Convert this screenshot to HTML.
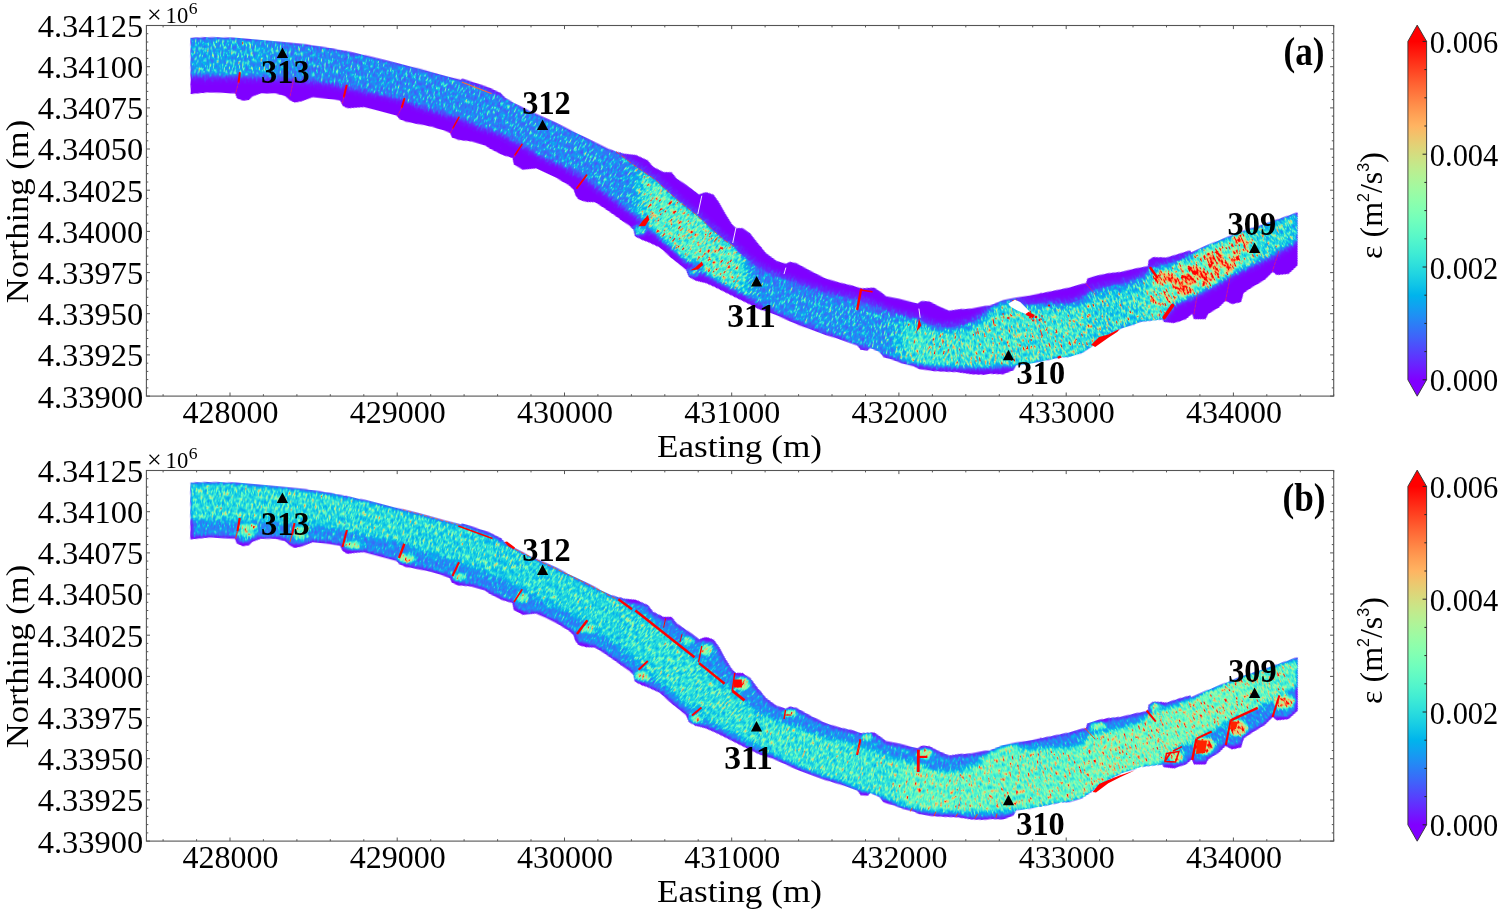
<!DOCTYPE html><html><head><meta charset="utf-8"><title>Dissipation rate maps</title><style>html,body{margin:0;padding:0;background:#fff}svg{display:block}text{font-family:"Liberation Serif","DejaVu Serif",serif;fill:#000}</style></head><body>
<svg width="1499" height="913" viewBox="0 0 1499 913">
<rect width="1499" height="913" fill="#fff"/>
<defs>
<linearGradient id="cba" gradientUnits="userSpaceOnUse" x1="0" y1="379.8" x2="0" y2="41.4"><stop offset="0.0000" stop-color="#8000ff"/><stop offset="0.0312" stop-color="#7019ff"/><stop offset="0.0625" stop-color="#6032fe"/><stop offset="0.0938" stop-color="#504afc"/><stop offset="0.1250" stop-color="#4062fa"/><stop offset="0.1562" stop-color="#3078f7"/><stop offset="0.1875" stop-color="#208ef4"/><stop offset="0.2188" stop-color="#10a2f0"/><stop offset="0.2500" stop-color="#00b4ec"/><stop offset="0.2812" stop-color="#10c5e7"/><stop offset="0.3125" stop-color="#20d4e1"/><stop offset="0.3438" stop-color="#30e1db"/><stop offset="0.3750" stop-color="#40ecd4"/><stop offset="0.4062" stop-color="#50f4cd"/><stop offset="0.4375" stop-color="#60fac5"/><stop offset="0.4688" stop-color="#70febd"/><stop offset="0.5000" stop-color="#80ffb4"/><stop offset="0.5312" stop-color="#8ffeab"/><stop offset="0.5625" stop-color="#9ffaa2"/><stop offset="0.5938" stop-color="#aff498"/><stop offset="0.6250" stop-color="#bfec8e"/><stop offset="0.6562" stop-color="#cfe183"/><stop offset="0.6875" stop-color="#dfd478"/><stop offset="0.7188" stop-color="#efc56d"/><stop offset="0.7500" stop-color="#ffb462"/><stop offset="0.7812" stop-color="#ffa256"/><stop offset="0.8125" stop-color="#ff8e4a"/><stop offset="0.8438" stop-color="#ff783e"/><stop offset="0.8750" stop-color="#ff6232"/><stop offset="0.9062" stop-color="#ff4a25"/><stop offset="0.9375" stop-color="#ff3219"/><stop offset="0.9688" stop-color="#ff190d"/><stop offset="1.0000" stop-color="#ff0000"/></linearGradient>
<linearGradient id="cbb" gradientUnits="userSpaceOnUse" x1="0" y1="824.8" x2="0" y2="486.4"><stop offset="0.0000" stop-color="#8000ff"/><stop offset="0.0312" stop-color="#7019ff"/><stop offset="0.0625" stop-color="#6032fe"/><stop offset="0.0938" stop-color="#504afc"/><stop offset="0.1250" stop-color="#4062fa"/><stop offset="0.1562" stop-color="#3078f7"/><stop offset="0.1875" stop-color="#208ef4"/><stop offset="0.2188" stop-color="#10a2f0"/><stop offset="0.2500" stop-color="#00b4ec"/><stop offset="0.2812" stop-color="#10c5e7"/><stop offset="0.3125" stop-color="#20d4e1"/><stop offset="0.3438" stop-color="#30e1db"/><stop offset="0.3750" stop-color="#40ecd4"/><stop offset="0.4062" stop-color="#50f4cd"/><stop offset="0.4375" stop-color="#60fac5"/><stop offset="0.4688" stop-color="#70febd"/><stop offset="0.5000" stop-color="#80ffb4"/><stop offset="0.5312" stop-color="#8ffeab"/><stop offset="0.5625" stop-color="#9ffaa2"/><stop offset="0.5938" stop-color="#aff498"/><stop offset="0.6250" stop-color="#bfec8e"/><stop offset="0.6562" stop-color="#cfe183"/><stop offset="0.6875" stop-color="#dfd478"/><stop offset="0.7188" stop-color="#efc56d"/><stop offset="0.7500" stop-color="#ffb462"/><stop offset="0.7812" stop-color="#ffa256"/><stop offset="0.8125" stop-color="#ff8e4a"/><stop offset="0.8438" stop-color="#ff783e"/><stop offset="0.8750" stop-color="#ff6232"/><stop offset="0.9062" stop-color="#ff4a25"/><stop offset="0.9375" stop-color="#ff3219"/><stop offset="0.9688" stop-color="#ff190d"/><stop offset="1.0000" stop-color="#ff0000"/></linearGradient>
<filter id="cm" x="-1200" y="-1200" width="3600" height="3600" filterUnits="userSpaceOnUse" color-interpolation-filters="sRGB">
<feTurbulence type="fractalNoise" baseFrequency="0.55 0.2" numOctaves="2" seed="7" result="n"/>
<feColorMatrix in="n" type="matrix" values="1 0 0 0 0 1 0 0 0 0 1 0 0 0 0 0 0 0 0 1" result="ng"/>
<feComponentTransfer in="ng" result="nt"><feFuncR type="table" tableValues="0.125 0.125 0.125 0.125 0.125 0.125 0.125 0.125 0.129 0.137 0.144 0.151 0.159 0.166 0.173 0.181 0.188 0.195 0.203 0.210 0.217 0.236 0.258 0.284 0.315 0.349 0.388 0.430 0.476 0.527 0.581 0.640 0.702 0.769 0.839 0.914 0.993 1.000 1.000 1.000 1.000"/><feFuncG type="table" tableValues="0.125 0.125 0.125 0.125 0.125 0.125 0.125 0.125 0.129 0.137 0.144 0.151 0.159 0.166 0.173 0.181 0.188 0.195 0.203 0.210 0.217 0.236 0.258 0.284 0.315 0.349 0.388 0.430 0.476 0.527 0.581 0.640 0.702 0.769 0.839 0.914 0.993 1.000 1.000 1.000 1.000"/><feFuncB type="table" tableValues="0.125 0.125 0.125 0.125 0.125 0.125 0.125 0.125 0.129 0.137 0.144 0.151 0.159 0.166 0.173 0.181 0.188 0.195 0.203 0.210 0.217 0.236 0.258 0.284 0.315 0.349 0.388 0.430 0.476 0.527 0.581 0.640 0.702 0.769 0.839 0.914 0.993 1.000 1.000 1.000 1.000"/></feComponentTransfer>
<feComposite in="SourceGraphic" in2="nt" operator="arithmetic" k1="4" k2="0" k3="0" k4="0" result="v"/>
<feComponentTransfer in="v" result="c"><feFuncR type="table" tableValues="0.500 0.438 0.375 0.312 0.250 0.188 0.125 0.062 0.000 0.062 0.125 0.188 0.250 0.312 0.375 0.438 0.500 0.562 0.625 0.688 0.750 0.812 0.875 0.938 1.000 1.000 1.000 1.000 1.000 1.000 1.000 1.000 1.000"/><feFuncG type="table" tableValues="0.000 0.098 0.195 0.290 0.383 0.471 0.556 0.634 0.707 0.773 0.831 0.882 0.924 0.957 0.981 0.995 1.000 0.995 0.981 0.957 0.924 0.882 0.831 0.773 0.707 0.634 0.556 0.471 0.383 0.290 0.195 0.098 0.000"/><feFuncB type="table" tableValues="1.000 0.999 0.995 0.989 0.981 0.970 0.957 0.942 0.924 0.904 0.882 0.858 0.831 0.803 0.773 0.741 0.707 0.672 0.634 0.596 0.556 0.514 0.471 0.428 0.383 0.337 0.290 0.243 0.195 0.147 0.098 0.049 0.000"/></feComponentTransfer>
<feComposite in="c" in2="SourceGraphic" operator="in"/>
</filter>
<filter id="cmb" x="-1200" y="-1200" width="3600" height="3600" filterUnits="userSpaceOnUse" color-interpolation-filters="sRGB">
<feTurbulence type="fractalNoise" baseFrequency="0.55 0.2" numOctaves="2" seed="7" result="n"/>
<feColorMatrix in="n" type="matrix" values="1 0 0 0 0 1 0 0 0 0 1 0 0 0 0 0 0 0 0 1" result="ng"/>
<feComponentTransfer in="ng" result="nt"><feFuncR type="table" tableValues="0.138 0.138 0.138 0.138 0.138 0.140 0.146 0.153 0.159 0.166 0.172 0.179 0.185 0.192 0.198 0.205 0.211 0.218 0.224 0.231 0.237 0.253 0.271 0.291 0.313 0.337 0.364 0.392 0.423 0.456 0.491 0.528 0.567 0.608 0.651 0.697 0.744 0.794 0.846 0.900 0.956"/><feFuncG type="table" tableValues="0.138 0.138 0.138 0.138 0.138 0.140 0.146 0.153 0.159 0.166 0.172 0.179 0.185 0.192 0.198 0.205 0.211 0.218 0.224 0.231 0.237 0.253 0.271 0.291 0.313 0.337 0.364 0.392 0.423 0.456 0.491 0.528 0.567 0.608 0.651 0.697 0.744 0.794 0.846 0.900 0.956"/><feFuncB type="table" tableValues="0.138 0.138 0.138 0.138 0.138 0.140 0.146 0.153 0.159 0.166 0.172 0.179 0.185 0.192 0.198 0.205 0.211 0.218 0.224 0.231 0.237 0.253 0.271 0.291 0.313 0.337 0.364 0.392 0.423 0.456 0.491 0.528 0.567 0.608 0.651 0.697 0.744 0.794 0.846 0.900 0.956"/></feComponentTransfer>
<feComposite in="SourceGraphic" in2="nt" operator="arithmetic" k1="4" k2="0" k3="0" k4="0" result="v"/>
<feComponentTransfer in="v" result="c"><feFuncR type="table" tableValues="0.500 0.438 0.375 0.312 0.250 0.188 0.125 0.062 0.000 0.062 0.125 0.188 0.250 0.312 0.375 0.438 0.500 0.562 0.625 0.688 0.750 0.812 0.875 0.938 1.000 1.000 1.000 1.000 1.000 1.000 1.000 1.000 1.000"/><feFuncG type="table" tableValues="0.000 0.098 0.195 0.290 0.383 0.471 0.556 0.634 0.707 0.773 0.831 0.882 0.924 0.957 0.981 0.995 1.000 0.995 0.981 0.957 0.924 0.882 0.831 0.773 0.707 0.634 0.556 0.471 0.383 0.290 0.195 0.098 0.000"/><feFuncB type="table" tableValues="1.000 0.999 0.995 0.989 0.981 0.970 0.957 0.942 0.924 0.904 0.882 0.858 0.831 0.803 0.773 0.741 0.707 0.672 0.634 0.596 0.556 0.514 0.471 0.428 0.383 0.337 0.290 0.243 0.195 0.147 0.098 0.049 0.000"/></feComponentTransfer>
<feComposite in="c" in2="SourceGraphic" operator="in"/>
</filter>
<filter id="b1" x="-20%" y="-20%" width="140%" height="140%" color-interpolation-filters="sRGB"><feGaussianBlur stdDeviation="1"/></filter>
<filter id="b1_5" x="-20%" y="-20%" width="140%" height="140%" color-interpolation-filters="sRGB"><feGaussianBlur stdDeviation="1.5"/></filter>
<filter id="b2" x="-20%" y="-20%" width="140%" height="140%" color-interpolation-filters="sRGB"><feGaussianBlur stdDeviation="2"/></filter>
<filter id="b3" x="-20%" y="-20%" width="140%" height="140%" color-interpolation-filters="sRGB"><feGaussianBlur stdDeviation="3"/></filter>
<filter id="b5" x="-20%" y="-20%" width="140%" height="140%" color-interpolation-filters="sRGB"><feGaussianBlur stdDeviation="5"/></filter>
<filter id="b8" x="-20%" y="-20%" width="140%" height="140%" color-interpolation-filters="sRGB"><feGaussianBlur stdDeviation="8"/></filter>
<clipPath id="oa"><polygon points="190.4,37.7 209.0,37.0 237.0,37.7 257.0,39.5 281.5,42.0 305.5,44.3 329.6,47.9 345.0,50.9 366.3,55.4 392.6,62.0 418.9,68.5 445.2,75.8 461.0,79.7 462.3,78.5 480.7,84.5 490.0,87.7 500.5,93.0 505.8,98.3 516.3,104.2 529.4,110.8 542.6,116.7 555.7,122.6 568.9,129.2 582.0,135.7 595.2,142.3 608.3,148.9 616.2,151.7 624.2,153.7 636.0,155.0 647.8,160.2 653.1,166.8 663.6,172.1 671.5,172.1 676.8,178.6 684.7,183.9 692.6,189.5 699.1,194.4 704.4,192.5 707.0,192.4 713.6,194.6 718.9,201.8 725.5,213.7 732.0,224.2 736.0,228.1 742.6,228.1 750.4,233.4 758.3,243.9 766.2,253.1 776.7,261.0 785.9,263.6 789.9,261.7 796.3,263.0 812.0,271.6 825.2,278.1 838.3,282.1 853.1,285.6 861.0,288.3 874.2,287.6 882.1,292.9 886.0,296.2 899.2,298.8 917.6,303.4 921.5,300.8 929.4,301.4 938.6,306.0 949.1,310.6 958.3,309.3 971.5,308.6 984.6,306.0 990.0,305.4 1003.1,300.1 1016.3,297.5 1029.4,295.5 1042.6,292.9 1055.7,290.2 1068.9,287.6 1082.0,283.7 1086.0,283.0 1087.3,278.4 1095.2,275.8 1108.3,273.1 1121.5,271.8 1134.6,268.5 1147.9,266.1 1148.5,260.2 1153.1,256.9 1166.3,257.6 1179.4,253.6 1190.0,250.4 1191.3,252.3 1205.7,245.8 1218.9,240.5 1232.0,235.2 1245.2,230.0 1258.3,226.0 1271.5,221.4 1284.6,216.8 1297.8,212.2 1297.8,265.5 1288.6,274.0 1276.7,275.3 1272.8,272.1 1264.9,279.9 1251.8,287.8 1243.9,293.1 1241.2,302.3 1232.0,304.3 1225.5,301.0 1218.9,307.6 1208.4,314.1 1205.7,319.4 1193.9,319.4 1191.9,314.1 1186.0,319.4 1174.2,323.3 1163.7,322.0 1162.4,319.4 1140.0,322.0 1134.6,324.4 1121.5,328.4 1108.3,334.9 1095.2,344.1 1089.9,348.1 1082.0,353.3 1068.9,357.3 1061.0,357.3 1049.2,359.9 1029.4,363.9 1016.3,365.2 1013.7,370.4 1003.1,374.4 990.0,374.0 984.6,375.0 971.5,374.4 958.3,372.4 945.2,371.8 932.0,371.1 918.9,369.1 913.6,366.5 903.1,363.9 892.6,359.9 883.4,357.3 879.4,352.0 870.2,348.1 867.6,350.7 861.0,350.0 857.1,345.5 840.0,339.5 825.2,335.0 798.9,325.5 772.6,313.6 758.3,309.0 751.8,305.7 738.6,299.1 725.5,292.6 714.9,287.3 705.7,283.3 695.2,280.7 688.6,276.8 686.0,270.2 672.9,259.7 659.7,247.8 647.9,242.2 642.6,240.4 634.7,236.5 633.4,229.9 629.4,226.0 616.3,216.8 603.1,207.6 594.9,202.5 586.1,202.0 578.5,199.8 575.2,195.5 573.5,190.0 568.9,185.7 555.7,177.8 545.2,172.6 536.0,168.6 522.9,169.9 513.7,164.7 512.4,158.1 503.1,155.5 490.0,149.0 484.6,145.4 471.5,141.5 458.3,140.2 451.8,137.6 449.8,133.0 442.6,130.3 432.0,127.0 418.9,124.4 405.7,121.8 399.2,119.1 396.5,115.9 379.4,111.3 363.7,107.3 353.1,108.0 347.9,108.6 342.6,106.0 340.0,100.7 329.6,99.1 312.7,97.3 301.9,101.5 294.6,102.7 289.8,100.3 285.0,96.1 275.4,93.7 260.9,93.7 252.5,96.7 248.9,100.3 242.8,100.9 236.8,98.5 235.0,93.7 209.0,92.5 190.4,94.3"/></clipPath>
<clipPath id="ob"><polygon points="190.4,482.7 209.0,482.0 237.0,482.7 257.0,484.5 281.5,487.0 305.5,489.3 329.6,492.9 345.0,495.9 366.3,500.4 392.6,507.0 418.9,513.5 445.2,520.8 461.0,524.7 462.3,523.5 480.7,529.5 490.0,532.7 500.5,538.0 505.8,543.3 516.3,549.2 529.4,555.8 542.6,561.7 555.7,567.6 568.9,574.2 582.0,580.7 595.2,587.3 608.3,593.9 616.2,596.7 624.2,598.7 636.0,600.0 647.8,605.2 653.1,611.8 663.6,617.1 671.5,617.1 676.8,623.6 684.7,628.9 692.6,634.5 699.1,639.4 704.4,637.5 707.0,637.4 713.6,639.6 718.9,646.8 725.5,658.7 732.0,669.2 736.0,673.1 742.6,673.1 750.4,678.4 758.3,688.9 766.2,698.1 776.7,706.0 785.9,708.6 789.9,706.7 796.3,708.0 812.0,716.6 825.2,723.1 838.3,727.1 853.1,730.6 861.0,733.3 874.2,732.6 882.1,737.9 886.0,741.2 899.2,743.8 917.6,748.4 921.5,745.8 929.4,746.4 938.6,751.0 949.1,755.6 958.3,754.3 971.5,753.6 984.6,751.0 990.0,750.4 1003.1,745.1 1016.3,742.5 1029.4,740.5 1042.6,737.9 1055.7,735.2 1068.9,732.6 1082.0,728.7 1086.0,728.0 1087.3,723.4 1095.2,720.8 1108.3,718.1 1121.5,716.8 1134.6,713.5 1147.9,711.1 1148.5,705.2 1153.1,701.9 1166.3,702.6 1179.4,698.6 1190.0,695.4 1191.3,697.3 1205.7,690.8 1218.9,685.5 1232.0,680.2 1245.2,675.0 1258.3,671.0 1271.5,666.4 1284.6,661.8 1297.8,657.2 1297.8,710.5 1288.6,719.0 1276.7,720.3 1272.8,717.1 1264.9,724.9 1251.8,732.8 1243.9,738.1 1241.2,747.3 1232.0,749.3 1225.5,746.0 1218.9,752.6 1208.4,759.1 1205.7,764.4 1193.9,764.4 1191.9,759.1 1186.0,764.4 1174.2,768.3 1163.7,767.0 1162.4,764.4 1140.0,767.0 1134.6,769.4 1121.5,773.4 1108.3,779.9 1095.2,789.1 1089.9,793.1 1082.0,798.3 1068.9,802.3 1061.0,802.3 1049.2,804.9 1029.4,808.9 1016.3,810.2 1013.7,815.4 1003.1,819.4 990.0,819.0 984.6,820.0 971.5,819.4 958.3,817.4 945.2,816.8 932.0,816.1 918.9,814.1 913.6,811.5 903.1,808.9 892.6,804.9 883.4,802.3 879.4,797.0 870.2,793.1 867.6,795.7 861.0,795.0 857.1,790.5 840.0,784.5 825.2,780.0 798.9,770.5 772.6,758.6 758.3,754.0 751.8,750.7 738.6,744.1 725.5,737.6 714.9,732.3 705.7,728.3 695.2,725.7 688.6,721.8 686.0,715.2 672.9,704.7 659.7,692.8 647.9,687.2 642.6,685.4 634.7,681.5 633.4,674.9 629.4,671.0 616.3,661.8 603.1,652.6 594.9,647.5 586.1,647.0 578.5,644.8 575.2,640.5 573.5,635.0 568.9,630.7 555.7,622.8 545.2,617.6 536.0,613.6 522.9,614.9 513.7,609.7 512.4,603.1 503.1,600.5 490.0,594.0 484.6,590.4 471.5,586.5 458.3,585.2 451.8,582.6 449.8,578.0 442.6,575.3 432.0,572.0 418.9,569.4 405.7,566.8 399.2,564.1 396.5,560.9 379.4,556.3 363.7,552.3 353.1,553.0 347.9,553.6 342.6,551.0 340.0,545.7 329.6,544.1 312.7,542.3 301.9,546.5 294.6,547.7 289.8,545.3 285.0,541.1 275.4,538.7 260.9,538.7 252.5,541.7 248.9,545.3 242.8,545.9 236.8,543.5 235.0,538.7 209.0,537.5 190.4,539.3"/></clipPath>
<mask id="mcha" maskUnits="userSpaceOnUse" x="0" y="0" width="1499" height="913"><polygon points="190.4,37.7 209.0,37.0 237.0,37.7 257.0,39.5 281.5,42.0 305.5,44.3 329.6,47.9 345.0,50.9 366.3,55.4 392.6,62.0 418.9,68.5 445.2,75.8 461.0,79.7 491.0,92.6 505.8,98.3 516.3,104.2 529.4,110.8 542.6,116.7 555.7,122.6 568.9,129.2 582.0,135.7 595.2,142.3 608.3,148.9 616.2,151.7 633.4,164.8 655.7,180.0 666.3,190.0 679.4,201.8 697.8,216.0 713.6,230.8 724.1,240.0 732.0,244.5 739.9,253.1 747.8,259.7 758.3,267.6 771.5,274.1 784.6,278.8 798.9,284.0 812.0,288.6 825.2,292.6 840.0,296.0 857.1,299.4 874.2,306.0 892.6,312.6 905.7,316.5 918.9,319.2 925.5,323.1 938.6,327.0 951.8,327.0 964.9,324.4 978.0,319.2 984.6,312.6 991.2,306.0 1003.1,300.1 1016.3,297.5 1020.2,304.7 1042.6,303.4 1055.7,303.4 1068.9,303.4 1082.0,299.4 1089.9,291.0 1108.3,286.3 1121.5,283.7 1134.6,279.7 1140.0,278.6 1150.5,268.1 1166.3,264.2 1179.4,260.2 1191.3,254.0 1205.7,245.8 1218.9,240.5 1232.0,235.2 1245.2,230.0 1258.3,226.0 1271.5,221.4 1284.6,216.8 1297.8,212.2 1297.8,240.5 1284.6,247.1 1271.5,255.0 1258.3,261.5 1232.0,273.4 1212.3,285.2 1192.6,295.7 1172.9,303.6 1162.4,318.1 1162.4,319.4 1140.0,322.0 1134.6,324.4 1121.5,328.4 1108.3,334.9 1095.2,344.1 1089.9,348.1 1082.0,353.3 1068.9,357.3 1061.0,357.3 1049.2,359.9 1029.4,363.9 1016.3,365.2 1000.0,365.8 984.6,366.5 958.3,366.5 932.0,365.2 905.7,361.2 879.4,350.7 851.5,341.2 840.0,335.0 825.2,331.0 798.9,320.2 772.6,308.4 758.3,301.8 745.2,293.9 732.0,287.3 718.9,280.7 703.1,271.5 700.5,264.0 686.0,259.7 672.5,247.0 661.0,237.0 649.0,227.0 640.0,217.0 629.4,210.2 616.3,199.7 603.1,190.5 586.6,178.0 568.9,167.3 542.6,155.5 521.6,143.6 500.0,132.3 484.6,127.0 458.3,116.5 445.2,112.6 418.9,104.7 403.0,98.0 379.4,92.8 353.0,87.6 345.0,85.0 329.6,82.0 305.5,78.5 257.0,75.6 190.4,74.4" fill="#fff" filter="url(#b2)"/></mask>
<clipPath id="ccha"><polygon points="190.4,37.7 209.0,37.0 237.0,37.7 257.0,39.5 281.5,42.0 305.5,44.3 329.6,47.9 345.0,50.9 366.3,55.4 392.6,62.0 418.9,68.5 445.2,75.8 461.0,79.7 491.0,92.6 505.8,98.3 516.3,104.2 529.4,110.8 542.6,116.7 555.7,122.6 568.9,129.2 582.0,135.7 595.2,142.3 608.3,148.9 616.2,151.7 633.4,164.8 655.7,180.0 666.3,190.0 679.4,201.8 697.8,216.0 713.6,230.8 724.1,240.0 732.0,244.5 739.9,253.1 747.8,259.7 758.3,267.6 771.5,274.1 784.6,278.8 798.9,284.0 812.0,288.6 825.2,292.6 840.0,296.0 857.1,299.4 874.2,306.0 892.6,312.6 905.7,316.5 918.9,319.2 925.5,323.1 938.6,327.0 951.8,327.0 964.9,324.4 978.0,319.2 984.6,312.6 991.2,306.0 1003.1,300.1 1016.3,297.5 1020.2,304.7 1042.6,303.4 1055.7,303.4 1068.9,303.4 1082.0,299.4 1089.9,291.0 1108.3,286.3 1121.5,283.7 1134.6,279.7 1140.0,278.6 1150.5,268.1 1166.3,264.2 1179.4,260.2 1191.3,254.0 1205.7,245.8 1218.9,240.5 1232.0,235.2 1245.2,230.0 1258.3,226.0 1271.5,221.4 1284.6,216.8 1297.8,212.2 1297.8,307.2 1284.6,311.8 1271.5,316.4 1258.3,321.0 1245.2,325.0 1232.0,330.2 1218.9,335.5 1205.7,340.8 1191.3,349.0 1179.4,355.2 1166.3,359.2 1150.5,363.1 1140.0,373.6 1134.6,374.7 1121.5,378.7 1108.3,381.3 1089.9,386.0 1082.0,394.4 1068.9,398.4 1055.7,398.4 1042.6,398.4 1020.2,399.7 1016.3,392.5 1003.1,395.1 991.2,401.0 984.6,407.6 978.0,414.2 964.9,419.4 951.8,422.0 938.6,422.0 925.5,418.1 918.9,414.2 905.7,411.5 892.6,407.6 874.2,401.0 857.1,394.4 840.0,391.0 825.2,387.6 812.0,383.6 798.9,379.0 784.6,373.8 771.5,369.1 758.3,362.6 747.8,354.7 739.9,348.1 732.0,339.5 724.1,335.0 713.6,325.8 697.8,311.0 679.4,296.8 666.3,285.0 655.7,275.0 633.4,259.8 616.2,246.7 608.3,243.9 595.2,237.3 582.0,230.7 568.9,224.2 555.7,217.6 542.6,211.7 529.4,205.8 516.3,199.2 505.8,193.3 491.0,187.6 461.0,174.7 445.2,170.8 418.9,163.5 392.6,157.0 366.3,150.4 345.0,145.9 329.6,142.9 305.5,139.3 281.5,137.0 257.0,134.5 237.0,132.7 209.0,132.0 190.4,132.7"/></clipPath>
<mask id="mchb" maskUnits="userSpaceOnUse" x="0" y="0" width="1499" height="913"><polygon points="190.4,482.7 209.0,482.0 237.0,482.7 257.0,484.5 281.5,487.0 305.5,489.3 329.6,492.9 345.0,495.9 366.3,500.4 392.6,507.0 418.9,513.5 445.2,520.8 461.0,524.7 491.0,537.6 505.8,543.3 516.3,549.2 529.4,555.8 542.6,561.7 555.7,567.6 568.9,574.2 582.0,580.7 595.2,587.3 608.3,593.9 616.2,596.7 633.4,609.8 655.7,625.0 666.3,635.0 679.4,646.8 697.8,661.0 713.6,675.8 724.1,685.0 732.0,689.5 739.9,698.1 747.8,704.7 758.3,712.6 771.5,719.1 784.6,723.8 798.9,729.0 812.0,733.6 825.2,737.6 840.0,741.0 857.1,744.4 874.2,751.0 892.6,757.6 905.7,761.5 918.9,764.2 925.5,768.1 938.6,772.0 951.8,772.0 964.9,769.4 978.0,764.2 984.6,757.6 991.2,751.0 1003.1,745.1 1016.3,742.5 1020.2,749.7 1042.6,748.4 1055.7,748.4 1068.9,748.4 1082.0,744.4 1089.9,736.0 1108.3,731.3 1121.5,728.7 1134.6,724.7 1140.0,723.6 1150.5,713.1 1166.3,709.2 1179.4,705.2 1191.3,699.0 1205.7,690.8 1218.9,685.5 1232.0,680.2 1245.2,675.0 1258.3,671.0 1271.5,666.4 1284.6,661.8 1297.8,657.2 1297.8,685.5 1284.6,692.1 1271.5,700.0 1258.3,706.5 1232.0,718.4 1212.3,730.2 1192.6,740.7 1172.9,748.6 1162.4,763.1 1162.4,764.4 1140.0,767.0 1134.6,769.4 1121.5,773.4 1108.3,779.9 1095.2,789.1 1089.9,793.1 1082.0,798.3 1068.9,802.3 1061.0,802.3 1049.2,804.9 1029.4,808.9 1016.3,810.2 1000.0,810.8 984.6,811.5 958.3,811.5 932.0,810.2 905.7,806.2 879.4,795.7 851.5,786.2 840.0,780.0 825.2,776.0 798.9,765.2 772.6,753.4 758.3,746.8 745.2,738.9 732.0,732.3 718.9,725.7 703.1,716.5 700.5,709.0 686.0,704.7 672.5,692.0 661.0,682.0 649.0,672.0 640.0,662.0 629.4,655.2 616.3,644.7 603.1,635.5 586.6,623.0 568.9,612.3 542.6,600.5 521.6,588.6 500.0,577.3 484.6,572.0 458.3,561.5 445.2,557.6 418.9,549.7 403.0,543.0 379.4,537.8 353.0,532.6 345.0,530.0 329.6,527.0 305.5,523.5 257.0,520.6 190.4,519.4" fill="#fff" filter="url(#b2)"/></mask>
</defs>
<defs><g id="rva"><g clip-path="url(#oa)">
<polygon points="190.4,37.7 209.0,37.0 237.0,37.7 257.0,39.5 281.5,42.0 305.5,44.3 329.6,47.9 345.0,50.9 366.3,55.4 392.6,62.0 418.9,68.5 445.2,75.8 461.0,79.7 462.3,78.5 480.7,84.5 490.0,87.7 500.5,93.0 505.8,98.3 516.3,104.2 529.4,110.8 542.6,116.7 555.7,122.6 568.9,129.2 582.0,135.7 595.2,142.3 608.3,148.9 616.2,151.7 624.2,153.7 636.0,155.0 647.8,160.2 653.1,166.8 663.6,172.1 671.5,172.1 676.8,178.6 684.7,183.9 692.6,189.5 699.1,194.4 704.4,192.5 707.0,192.4 713.6,194.6 718.9,201.8 725.5,213.7 732.0,224.2 736.0,228.1 742.6,228.1 750.4,233.4 758.3,243.9 766.2,253.1 776.7,261.0 785.9,263.6 789.9,261.7 796.3,263.0 812.0,271.6 825.2,278.1 838.3,282.1 853.1,285.6 861.0,288.3 874.2,287.6 882.1,292.9 886.0,296.2 899.2,298.8 917.6,303.4 921.5,300.8 929.4,301.4 938.6,306.0 949.1,310.6 958.3,309.3 971.5,308.6 984.6,306.0 990.0,305.4 1003.1,300.1 1016.3,297.5 1029.4,295.5 1042.6,292.9 1055.7,290.2 1068.9,287.6 1082.0,283.7 1086.0,283.0 1087.3,278.4 1095.2,275.8 1108.3,273.1 1121.5,271.8 1134.6,268.5 1147.9,266.1 1148.5,260.2 1153.1,256.9 1166.3,257.6 1179.4,253.6 1190.0,250.4 1191.3,252.3 1205.7,245.8 1218.9,240.5 1232.0,235.2 1245.2,230.0 1258.3,226.0 1271.5,221.4 1284.6,216.8 1297.8,212.2 1297.8,265.5 1288.6,274.0 1276.7,275.3 1272.8,272.1 1264.9,279.9 1251.8,287.8 1243.9,293.1 1241.2,302.3 1232.0,304.3 1225.5,301.0 1218.9,307.6 1208.4,314.1 1205.7,319.4 1193.9,319.4 1191.9,314.1 1186.0,319.4 1174.2,323.3 1163.7,322.0 1162.4,319.4 1140.0,322.0 1134.6,324.4 1121.5,328.4 1108.3,334.9 1095.2,344.1 1089.9,348.1 1082.0,353.3 1068.9,357.3 1061.0,357.3 1049.2,359.9 1029.4,363.9 1016.3,365.2 1013.7,370.4 1003.1,374.4 990.0,374.0 984.6,375.0 971.5,374.4 958.3,372.4 945.2,371.8 932.0,371.1 918.9,369.1 913.6,366.5 903.1,363.9 892.6,359.9 883.4,357.3 879.4,352.0 870.2,348.1 867.6,350.7 861.0,350.0 857.1,345.5 840.0,339.5 825.2,335.0 798.9,325.5 772.6,313.6 758.3,309.0 751.8,305.7 738.6,299.1 725.5,292.6 714.9,287.3 705.7,283.3 695.2,280.7 688.6,276.8 686.0,270.2 672.9,259.7 659.7,247.8 647.9,242.2 642.6,240.4 634.7,236.5 633.4,229.9 629.4,226.0 616.3,216.8 603.1,207.6 594.9,202.5 586.1,202.0 578.5,199.8 575.2,195.5 573.5,190.0 568.9,185.7 555.7,177.8 545.2,172.6 536.0,168.6 522.9,169.9 513.7,164.7 512.4,158.1 503.1,155.5 490.0,149.0 484.6,145.4 471.5,141.5 458.3,140.2 451.8,137.6 449.8,133.0 442.6,130.3 432.0,127.0 418.9,124.4 405.7,121.8 399.2,119.1 396.5,115.9 379.4,111.3 363.7,107.3 353.1,108.0 347.9,108.6 342.6,106.0 340.0,100.7 329.6,99.1 312.7,97.3 301.9,101.5 294.6,102.7 289.8,100.3 285.0,96.1 275.4,93.7 260.9,93.7 252.5,96.7 248.9,100.3 242.8,100.9 236.8,98.5 235.0,93.7 209.0,92.5 190.4,94.3" fill="#000000" />
<g filter="url(#b5)" opacity="0.9"><polygon points="190.4,37.7 209.0,37.0 237.0,37.7 257.0,39.5 281.5,42.0 305.5,44.3 329.6,47.9 345.0,50.9 366.3,55.4 392.6,62.0 418.9,68.5 445.2,75.8 461.0,79.7 491.0,92.6 505.8,98.3 516.3,104.2 529.4,110.8 542.6,116.7 555.7,122.6 568.9,129.2 582.0,135.7 595.2,142.3 608.3,148.9 616.2,151.7 633.4,164.8 655.7,180.0 666.3,190.0 679.4,201.8 697.8,216.0 713.6,230.8 724.1,240.0 732.0,244.5 739.9,253.1 747.8,259.7 758.3,267.6 771.5,274.1 784.6,278.8 798.9,284.0 812.0,288.6 825.2,292.6 840.0,296.0 857.1,299.4 874.2,306.0 892.6,312.6 905.7,316.5 918.9,319.2 925.5,323.1 938.6,327.0 951.8,327.0 964.9,324.4 978.0,319.2 984.6,312.6 991.2,306.0 1003.1,300.1 1016.3,297.5 1020.2,304.7 1042.6,303.4 1055.7,303.4 1068.9,303.4 1082.0,299.4 1089.9,291.0 1108.3,286.3 1121.5,283.7 1134.6,279.7 1140.0,278.6 1150.5,268.1 1166.3,264.2 1179.4,260.2 1191.3,254.0 1205.7,245.8 1218.9,240.5 1232.0,235.2 1245.2,230.0 1258.3,226.0 1271.5,221.4 1284.6,216.8 1297.8,212.2 1297.8,240.5 1284.6,247.1 1271.5,255.0 1258.3,261.5 1232.0,273.4 1212.3,285.2 1192.6,295.7 1172.9,303.6 1162.4,318.1 1162.4,319.4 1140.0,322.0 1134.6,324.4 1121.5,328.4 1108.3,334.9 1095.2,344.1 1089.9,348.1 1082.0,353.3 1068.9,357.3 1061.0,357.3 1049.2,359.9 1029.4,363.9 1016.3,365.2 1000.0,365.8 984.6,366.5 958.3,366.5 932.0,365.2 905.7,361.2 879.4,350.7 851.5,341.2 840.0,335.0 825.2,331.0 798.9,320.2 772.6,308.4 758.3,301.8 745.2,293.9 732.0,287.3 718.9,280.7 703.1,271.5 700.5,264.0 686.0,259.7 672.5,247.0 661.0,237.0 649.0,227.0 640.0,217.0 629.4,210.2 616.3,199.7 603.1,190.5 586.6,178.0 568.9,167.3 542.6,155.5 521.6,143.6 500.0,132.3 484.6,127.0 458.3,116.5 445.2,112.6 418.9,104.7 403.0,98.0 379.4,92.8 353.0,87.6 345.0,85.0 329.6,82.0 305.5,78.5 257.0,75.6 190.4,74.4" fill="#333333" /></g>
<g clip-path="url(#ccha)"><g mask="url(#mcha)">
<rect x="150" y="0.0" width="1200" height="420" fill="#333333"/>
<g filter="url(#b8)">
<rect x="180.0" y="-20.0" width="95.0" height="460" fill="#404040"/>
<rect x="275.0" y="-20.0" width="245.0" height="460" fill="#333333"/>
<rect x="520.0" y="-20.0" width="120.0" height="460" fill="#333333"/>
<rect x="640.0" y="-20.0" width="105.0" height="460" fill="#787878"/>
<rect x="745.0" y="-20.0" width="155.0" height="460" fill="#383838"/>
<rect x="900.0" y="-20.0" width="190.0" height="460" fill="#6b6b6b"/>
<rect x="1090.0" y="-20.0" width="60.0" height="460" fill="#5c5c5c"/>
<rect x="1150.0" y="-20.0" width="100.0" height="460" fill="#808080"/>
<rect x="1250.0" y="-20.0" width="50.0" height="460" fill="#5c5c5c"/>
</g>
<g filter="url(#b3)"><polyline points="747.8,259.7 758.3,267.6 771.5,274.1 784.6,278.8 798.9,284.0 812.0,288.6 825.2,292.6 840.0,296.0 857.1,299.4 874.2,306.0 892.6,312.6 905.7,316.5 918.9,319.2 925.5,323.1 938.6,327.0 951.8,327.0 964.9,324.4 978.0,319.2 984.6,312.6 991.2,306.0 1003.1,300.1 1016.3,297.5 1020.2,304.7 1042.6,303.4 1055.7,303.4 1068.9,303.4 1082.0,299.4 1089.9,291.0 1108.3,286.3 1121.5,283.7 1134.6,279.7 1140.0,278.6 1150.5,268.1 1166.3,264.2 1179.4,260.2 1191.3,254.0" fill="none" stroke="#1f1f1f" stroke-width="10" opacity="0.75"/></g>
<g filter="url(#b1)">
<ellipse cx="1153.4" cy="300.3" rx="1.9" ry="5.7" transform="rotate(-25 1153.4 300.3)" fill="#ffffff"/>
<ellipse cx="1156.5" cy="279.3" rx="1.7" ry="5.9" transform="rotate(-27 1156.5 279.3)" fill="#ffffff"/>
<ellipse cx="1158.5" cy="280.6" rx="1.7" ry="4.2" transform="rotate(-29 1158.5 280.6)" fill="#ffffff"/>
<ellipse cx="1159.7" cy="276.8" rx="1.5" ry="4.4" transform="rotate(-22 1159.7 276.8)" fill="#ffffff"/>
<ellipse cx="1162.4" cy="279.9" rx="2.1" ry="4.1" transform="rotate(-28 1162.4 279.9)" fill="#ffffff"/>
<ellipse cx="1162.6" cy="274.4" rx="2.3" ry="4.4" transform="rotate(-36 1162.6 274.4)" fill="#ffffff"/>
<ellipse cx="1167.3" cy="297.8" rx="1.7" ry="7.0" transform="rotate(-29 1167.3 297.8)" fill="#ffffff"/>
<ellipse cx="1168.5" cy="278.1" rx="2.5" ry="6.3" transform="rotate(-21 1168.5 278.1)" fill="#ffffff"/>
<ellipse cx="1171.3" cy="279.7" rx="1.9" ry="4.6" transform="rotate(-37 1171.3 279.7)" fill="#ffffff"/>
<ellipse cx="1170.9" cy="278.7" rx="2.2" ry="4.1" transform="rotate(-26 1170.9 278.7)" fill="#ffffff"/>
<ellipse cx="1173.9" cy="278.0" rx="2.5" ry="6.0" transform="rotate(-34 1173.9 278.0)" fill="#ffffff"/>
<ellipse cx="1176.4" cy="288.0" rx="1.7" ry="8.1" transform="rotate(-40 1176.4 288.0)" fill="#ffffff"/>
<ellipse cx="1179.4" cy="290.9" rx="1.6" ry="7.6" transform="rotate(-33 1179.4 290.9)" fill="#ffffff"/>
<ellipse cx="1181.0" cy="266.5" rx="1.7" ry="5.3" transform="rotate(-21 1181.0 266.5)" fill="#ffffff"/>
<ellipse cx="1182.0" cy="286.3" rx="3.0" ry="8.6" transform="rotate(-33 1182.0 286.3)" fill="#ffffff"/>
<ellipse cx="1184.6" cy="278.9" rx="2.8" ry="5.2" transform="rotate(-25 1184.6 278.9)" fill="#ffffff"/>
<ellipse cx="1188.0" cy="287.2" rx="1.8" ry="9.1" transform="rotate(-38 1188.0 287.2)" fill="#ffffff"/>
<ellipse cx="1188.8" cy="279.2" rx="3.1" ry="6.5" transform="rotate(-22 1188.8 279.2)" fill="#ffffff"/>
<ellipse cx="1191.5" cy="269.8" rx="2.3" ry="5.8" transform="rotate(-38 1191.5 269.8)" fill="#ffffff"/>
<ellipse cx="1192.5" cy="279.4" rx="3.4" ry="5.9" transform="rotate(-39 1192.5 279.4)" fill="#ffffff"/>
<ellipse cx="1197.1" cy="274.0" rx="2.5" ry="6.4" transform="rotate(-28 1197.1 274.0)" fill="#ffffff"/>
<ellipse cx="1198.8" cy="270.8" rx="2.5" ry="5.4" transform="rotate(-22 1198.8 270.8)" fill="#ffffff"/>
<ellipse cx="1198.5" cy="270.8" rx="3.1" ry="5.7" transform="rotate(-25 1198.5 270.8)" fill="#ffffff"/>
<ellipse cx="1203.4" cy="273.6" rx="3.0" ry="5.4" transform="rotate(-31 1203.4 273.6)" fill="#ffffff"/>
<ellipse cx="1203.1" cy="278.6" rx="2.2" ry="6.9" transform="rotate(-20 1203.1 278.6)" fill="#ffffff"/>
<ellipse cx="1207.4" cy="281.3" rx="2.4" ry="6.9" transform="rotate(-25 1207.4 281.3)" fill="#ffffff"/>
<ellipse cx="1208.4" cy="261.1" rx="2.3" ry="5.3" transform="rotate(-32 1208.4 261.1)" fill="#ffffff"/>
<ellipse cx="1212.1" cy="278.8" rx="2.5" ry="6.6" transform="rotate(-33 1212.1 278.8)" fill="#ffffff"/>
<ellipse cx="1211.5" cy="258.5" rx="2.7" ry="8.0" transform="rotate(-33 1211.5 258.5)" fill="#ffffff"/>
<ellipse cx="1215.7" cy="271.6" rx="2.5" ry="7.0" transform="rotate(-25 1215.7 271.6)" fill="#ffffff"/>
<ellipse cx="1216.6" cy="268.6" rx="1.9" ry="6.1" transform="rotate(-25 1216.6 268.6)" fill="#ffffff"/>
<ellipse cx="1219.7" cy="256.0" rx="2.7" ry="6.6" transform="rotate(-28 1219.7 256.0)" fill="#ffffff"/>
<ellipse cx="1219.8" cy="262.1" rx="1.8" ry="6.5" transform="rotate(-31 1219.8 262.1)" fill="#ffffff"/>
<ellipse cx="1224.3" cy="263.9" rx="2.4" ry="5.2" transform="rotate(-27 1224.3 263.9)" fill="#ffffff"/>
<ellipse cx="1226.2" cy="267.9" rx="1.8" ry="6.7" transform="rotate(-23 1226.2 267.9)" fill="#ffffff"/>
<ellipse cx="1228.2" cy="271.1" rx="2.4" ry="5.5" transform="rotate(-29 1228.2 271.1)" fill="#ffffff"/>
<ellipse cx="1228.8" cy="266.1" rx="2.3" ry="5.2" transform="rotate(-26 1228.8 266.1)" fill="#ffffff"/>
<ellipse cx="1232.6" cy="262.1" rx="1.5" ry="5.9" transform="rotate(-28 1232.6 262.1)" fill="#ffffff"/>
<ellipse cx="1234.5" cy="252.4" rx="1.9" ry="5.7" transform="rotate(-27 1234.5 252.4)" fill="#ffffff"/>
<ellipse cx="1236.8" cy="240.4" rx="1.4" ry="4.6" transform="rotate(-27 1236.8 240.4)" fill="#ffffff"/>
<ellipse cx="1237.4" cy="257.8" rx="1.8" ry="3.4" transform="rotate(-31 1237.4 257.8)" fill="#ffffff"/>
<ellipse cx="1239.6" cy="239.1" rx="1.3" ry="4.0" transform="rotate(-36 1239.6 239.1)" fill="#ffffff"/>
<ellipse cx="1241.6" cy="237.6" rx="1.5" ry="4.0" transform="rotate(-28 1241.6 237.6)" fill="#ffffff"/>
<ellipse cx="1244.9" cy="242.2" rx="1.8" ry="3.0" transform="rotate(-32 1244.9 242.2)" fill="#ffffff"/>
<ellipse cx="1246.1" cy="246.0" rx="1.2" ry="4.7" transform="rotate(-33 1246.1 246.0)" fill="#ffffff"/>
<ellipse cx="1247.5" cy="250.7" rx="1.1" ry="3.9" transform="rotate(-33 1247.5 250.7)" fill="#ffffff"/>
</g>
</g></g>
<g filter="url(#b1)"><polyline points="190.4,37.7 209.0,37.0 237.0,37.7 257.0,39.5 281.5,42.0 305.5,44.3 329.6,47.9 345.0,50.9 366.3,55.4 392.6,62.0 418.9,68.5 445.2,75.8 461.0,79.7 462.3,78.5 480.7,84.5 490.0,87.7 500.5,93.0 505.8,98.3 516.3,104.2 529.4,110.8 542.6,116.7 555.7,122.6 568.9,129.2 582.0,135.7 595.2,142.3 608.3,148.9 616.2,151.7 624.2,153.7 636.0,155.0 647.8,160.2 653.1,166.8 663.6,172.1 671.5,172.1 676.8,178.6 684.7,183.9 692.6,189.5 699.1,194.4 704.4,192.5 707.0,192.4 713.6,194.6 718.9,201.8 725.5,213.7 732.0,224.2 736.0,228.1 742.6,228.1 750.4,233.4 758.3,243.9 766.2,253.1 776.7,261.0 785.9,263.6 789.9,261.7 796.3,263.0 812.0,271.6 825.2,278.1 838.3,282.1 853.1,285.6 861.0,288.3 874.2,287.6 882.1,292.9 886.0,296.2 899.2,298.8 917.6,303.4 921.5,300.8 929.4,301.4 938.6,306.0 949.1,310.6 958.3,309.3 971.5,308.6 984.6,306.0 990.0,305.4 1003.1,300.1 1016.3,297.5 1029.4,295.5 1042.6,292.9 1055.7,290.2 1068.9,287.6 1082.0,283.7 1086.0,283.0 1087.3,278.4 1095.2,275.8 1108.3,273.1 1121.5,271.8 1134.6,268.5 1147.9,266.1 1148.5,260.2 1153.1,256.9 1166.3,257.6 1179.4,253.6 1190.0,250.4 1191.3,252.3 1205.7,245.8 1218.9,240.5 1232.0,235.2 1245.2,230.0 1258.3,226.0 1271.5,221.4 1284.6,216.8 1297.8,212.2" fill="none" stroke="#0a0a0a" stroke-width="2.6" opacity="0.7"/></g>
<g filter="url(#b2)"><ellipse cx="640" cy="230.0" rx="6" ry="3.5" fill="#808080"/><ellipse cx="694" cy="272.0" rx="6" ry="3" fill="#737373"/></g>
</g></g>
<clipPath id="rva_s0"><rect x="180.0" y="0.0" width="166.5" height="420"/></clipPath>
<clipPath id="rva_s1"><rect x="345.0" y="0.0" width="156.5" height="420"/></clipPath>
<clipPath id="rva_s2"><rect x="500.0" y="0.0" width="121.5" height="420"/></clipPath>
<clipPath id="rva_s3"><rect x="620.0" y="0.0" width="141.5" height="420"/></clipPath>
<clipPath id="rva_s4"><rect x="760.0" y="0.0" width="101.5" height="420"/></clipPath>
<clipPath id="rva_s5"><rect x="860.0" y="0.0" width="101.5" height="420"/></clipPath>
<clipPath id="rva_s6"><rect x="960.0" y="0.0" width="81.5" height="420"/></clipPath>
<clipPath id="rva_s7"><rect x="1040.0" y="0.0" width="121.5" height="420"/></clipPath>
<clipPath id="rva_s8"><rect x="1160.0" y="0.0" width="151.5" height="420"/></clipPath>
</defs>
<g transform="rotate(5)" filter="url(#cm)"><g transform="rotate(-5)" clip-path="url(#rva_s0)"><use href="#rva"/></g></g>
<g transform="rotate(15)" filter="url(#cm)"><g transform="rotate(-15)" clip-path="url(#rva_s1)"><use href="#rva"/></g></g>
<g transform="rotate(25)" filter="url(#cm)"><g transform="rotate(-25)" clip-path="url(#rva_s2)"><use href="#rva"/></g></g>
<g transform="rotate(38)" filter="url(#cm)"><g transform="rotate(-38)" clip-path="url(#rva_s3)"><use href="#rva"/></g></g>
<g transform="rotate(21)" filter="url(#cm)"><g transform="rotate(-21)" clip-path="url(#rva_s4)"><use href="#rva"/></g></g>
<g transform="rotate(12)" filter="url(#cm)"><g transform="rotate(-12)" clip-path="url(#rva_s5)"><use href="#rva"/></g></g>
<g transform="rotate(-10)" filter="url(#cm)"><g transform="rotate(10)" clip-path="url(#rva_s6)"><use href="#rva"/></g></g>
<g transform="rotate(-18)" filter="url(#cm)"><g transform="rotate(18)" clip-path="url(#rva_s7)"><use href="#rva"/></g></g>
<g transform="rotate(-25)" filter="url(#cm)"><g transform="rotate(25)" clip-path="url(#rva_s8)"><use href="#rva"/></g></g>
<g stroke-linecap="round">
<line x1="239.8" y1="73.0" x2="238.6" y2="82.0" stroke="#f00" stroke-width="2.0" />
<line x1="346.6" y1="85.6" x2="343.9" y2="96.8" stroke="#f00" stroke-width="2.0" />
<line x1="404.4" y1="98.8" x2="401.8" y2="107.3" stroke="#f00" stroke-width="2.0" />
<line x1="459.0" y1="117.2" x2="453.0" y2="128.0" stroke="#f00" stroke-width="1.5" />
<line x1="522.0" y1="144.3" x2="515.0" y2="155.0" stroke="#f00" stroke-width="1.5" />
<line x1="586.6" y1="175.2" x2="577.0" y2="188.0" stroke="#f00" stroke-width="1.8" />
<line x1="861.0" y1="289.6" x2="857.3" y2="309.0" stroke="#f00" stroke-width="2.4" />
<line x1="861.0" y1="290.0" x2="872.0" y2="291.8" stroke="#f00" stroke-width="1.4" />
<line x1="1150.5" y1="268.1" x2="1157.1" y2="277.3" stroke="#f00" stroke-width="2.6" />
<line x1="1164.2" y1="317.5" x2="1172.5" y2="305.5" stroke="#f00" stroke-width="3.6" />
<line x1="238.6" y1="82.0" x2="235.6" y2="93.7" stroke="#f25" stroke-width="0.8" stroke-dasharray="2.5 1.5" opacity="0.8"/>
<line x1="294.0" y1="78.0" x2="289.8" y2="97.3" stroke="#f25" stroke-width="0.8" stroke-dasharray="2.5 1.5" opacity="0.8"/>
<line x1="343.9" y1="96.8" x2="342.5" y2="103.0" stroke="#f25" stroke-width="0.8" stroke-dasharray="2.5 1.5" opacity="0.8"/>
<line x1="401.8" y1="107.3" x2="397.9" y2="115.2" stroke="#f25" stroke-width="0.8" stroke-dasharray="2.5 1.5" opacity="0.8"/>
<line x1="453.0" y1="128.0" x2="450.4" y2="133.0" stroke="#f25" stroke-width="0.8" stroke-dasharray="2.5 1.5" opacity="0.8"/>
<line x1="515.0" y1="155.0" x2="513.7" y2="158.0" stroke="#f25" stroke-width="0.8" stroke-dasharray="2.5 1.5" opacity="0.8"/>
<line x1="1086.0" y1="283.7" x2="1095.2" y2="294.2" stroke="#f25" stroke-width="0.8" stroke-dasharray="2.5 1.5" opacity="0.8"/>
<line x1="1197.5" y1="293.0" x2="1194.0" y2="314.0" stroke="#f25" stroke-width="0.8" stroke-dasharray="2.5 1.5" opacity="0.8"/>
<line x1="1230.5" y1="275.0" x2="1225.5" y2="301.0" stroke="#f25" stroke-width="0.8" stroke-dasharray="2.5 1.5" opacity="0.8"/>
<line x1="1279.0" y1="251.0" x2="1272.5" y2="271.0" stroke="#f25" stroke-width="0.8" stroke-dasharray="2.5 1.5" opacity="0.8"/>
<line x1="462.3" y1="82.3" x2="491.2" y2="93.5" stroke="#f63" stroke-width="1.1" />
<polyline points="616.3,151.7 633.4,164.8 655.7,180.0 666.3,190.0 679.4,201.8 697.8,216.0 713.6,230.8 724.1,240.0 734.6,247.0" fill="none" stroke="#f42" stroke-width="0.9" stroke-dasharray="4 3" opacity="0.85"/>
</g>
<polygon points="647.8,215.2 649.4,219.4 645.2,226.0 638.6,226.3 642.6,220.7" fill="#f00"/>
<polygon points="701.8,261.5 703.3,264.9 697.8,269.5 690.0,270.4 695.2,267.6" fill="#f00"/>
<polygon points="919.0,318.5 921.3,325.5 917.2,331.0 916.2,335.0 917.6,326.0" fill="#f00"/>
<polygon points="1091.2,344.8 1099.1,337.0 1108.3,334.6 1119.5,329.0 1117.5,331.7 1108.3,337.8 1095.2,347.0" fill="#f00"/>
<polygon points="1057.0,357.0 1060.0,355.6 1061.7,357.4 1058.5,358.8" fill="#f00"/>
<line x1="701.8" y1="195.7" x2="697.8" y2="214.1" stroke="#fff" stroke-width="0.9" />
<line x1="735.9" y1="228.0" x2="732.7" y2="243.0" stroke="#fff" stroke-width="0.9" />
<line x1="785.9" y1="267.6" x2="784.0" y2="274.1" stroke="#fff" stroke-width="0.9" />
<line x1="918.9" y1="308.6" x2="920.2" y2="317.8" stroke="#fff" stroke-width="0.9" />
<polygon points="1026.0,310.5 1034.7,315.0 1033.0,318.2 1027.0,315.5 1023.0,312.0" fill="#f00"/>
<polygon points="1012.5,300.2 1017.0,299.6 1016.0,302.0 1012.0,302.4" fill="#f00"/>
<circle cx="1036.0" cy="317.0" r="1.3" fill="#f00"/>
<circle cx="1039.5" cy="320.0" r="1.0" fill="#f00"/>
<circle cx="1033.0" cy="320.5" r="0.9" fill="#f00"/>
<circle cx="1042.0" cy="316.0" r="0.8" fill="#f00"/>
<circle cx="1030.0" cy="317.5" r="1.0" fill="#f00"/>
<circle cx="1049.0" cy="305.5" r="1.1" fill="#f00"/>
<circle cx="1045.0" cy="322.0" r="0.8" fill="#f00"/>
<circle cx="1003.0" cy="314.0" r="0.8" fill="#f00"/>
<circle cx="1008.0" cy="318.0" r="0.9" fill="#f00"/>
<polygon points="1008.4,303.4 1015.0,299.8 1020.2,302.1 1029.4,311.3 1025.5,313.9 1016.3,310.0 1009.7,306.0" fill="#fff"/>
<defs><g id="rvb"><g clip-path="url(#ob)">
<polygon points="190.4,482.7 209.0,482.0 237.0,482.7 257.0,484.5 281.5,487.0 305.5,489.3 329.6,492.9 345.0,495.9 366.3,500.4 392.6,507.0 418.9,513.5 445.2,520.8 461.0,524.7 462.3,523.5 480.7,529.5 490.0,532.7 500.5,538.0 505.8,543.3 516.3,549.2 529.4,555.8 542.6,561.7 555.7,567.6 568.9,574.2 582.0,580.7 595.2,587.3 608.3,593.9 616.2,596.7 624.2,598.7 636.0,600.0 647.8,605.2 653.1,611.8 663.6,617.1 671.5,617.1 676.8,623.6 684.7,628.9 692.6,634.5 699.1,639.4 704.4,637.5 707.0,637.4 713.6,639.6 718.9,646.8 725.5,658.7 732.0,669.2 736.0,673.1 742.6,673.1 750.4,678.4 758.3,688.9 766.2,698.1 776.7,706.0 785.9,708.6 789.9,706.7 796.3,708.0 812.0,716.6 825.2,723.1 838.3,727.1 853.1,730.6 861.0,733.3 874.2,732.6 882.1,737.9 886.0,741.2 899.2,743.8 917.6,748.4 921.5,745.8 929.4,746.4 938.6,751.0 949.1,755.6 958.3,754.3 971.5,753.6 984.6,751.0 990.0,750.4 1003.1,745.1 1016.3,742.5 1029.4,740.5 1042.6,737.9 1055.7,735.2 1068.9,732.6 1082.0,728.7 1086.0,728.0 1087.3,723.4 1095.2,720.8 1108.3,718.1 1121.5,716.8 1134.6,713.5 1147.9,711.1 1148.5,705.2 1153.1,701.9 1166.3,702.6 1179.4,698.6 1190.0,695.4 1191.3,697.3 1205.7,690.8 1218.9,685.5 1232.0,680.2 1245.2,675.0 1258.3,671.0 1271.5,666.4 1284.6,661.8 1297.8,657.2 1297.8,710.5 1288.6,719.0 1276.7,720.3 1272.8,717.1 1264.9,724.9 1251.8,732.8 1243.9,738.1 1241.2,747.3 1232.0,749.3 1225.5,746.0 1218.9,752.6 1208.4,759.1 1205.7,764.4 1193.9,764.4 1191.9,759.1 1186.0,764.4 1174.2,768.3 1163.7,767.0 1162.4,764.4 1140.0,767.0 1134.6,769.4 1121.5,773.4 1108.3,779.9 1095.2,789.1 1089.9,793.1 1082.0,798.3 1068.9,802.3 1061.0,802.3 1049.2,804.9 1029.4,808.9 1016.3,810.2 1013.7,815.4 1003.1,819.4 990.0,819.0 984.6,820.0 971.5,819.4 958.3,817.4 945.2,816.8 932.0,816.1 918.9,814.1 913.6,811.5 903.1,808.9 892.6,804.9 883.4,802.3 879.4,797.0 870.2,793.1 867.6,795.7 861.0,795.0 857.1,790.5 840.0,784.5 825.2,780.0 798.9,770.5 772.6,758.6 758.3,754.0 751.8,750.7 738.6,744.1 725.5,737.6 714.9,732.3 705.7,728.3 695.2,725.7 688.6,721.8 686.0,715.2 672.9,704.7 659.7,692.8 647.9,687.2 642.6,685.4 634.7,681.5 633.4,674.9 629.4,671.0 616.3,661.8 603.1,652.6 594.9,647.5 586.1,647.0 578.5,644.8 575.2,640.5 573.5,635.0 568.9,630.7 555.7,622.8 545.2,617.6 536.0,613.6 522.9,614.9 513.7,609.7 512.4,603.1 503.1,600.5 490.0,594.0 484.6,590.4 471.5,586.5 458.3,585.2 451.8,582.6 449.8,578.0 442.6,575.3 432.0,572.0 418.9,569.4 405.7,566.8 399.2,564.1 396.5,560.9 379.4,556.3 363.7,552.3 353.1,553.0 347.9,553.6 342.6,551.0 340.0,545.7 329.6,544.1 312.7,542.3 301.9,546.5 294.6,547.7 289.8,545.3 285.0,541.1 275.4,538.7 260.9,538.7 252.5,541.7 248.9,545.3 242.8,545.9 236.8,543.5 235.0,538.7 209.0,537.5 190.4,539.3" fill="#303030" />
<g filter="url(#b1_5)"><polygon points="190.4,482.7 209.0,482.0 237.0,482.7 257.0,484.5 281.5,487.0 305.5,489.3 329.6,492.9 345.0,495.9 366.3,500.4 392.6,507.0 418.9,513.5 445.2,520.8 461.0,524.7 462.3,523.5 480.7,529.5 490.0,532.7 500.5,538.0 505.8,543.3 516.3,549.2 529.4,555.8 542.6,561.7 555.7,567.6 568.9,574.2 582.0,580.7 595.2,587.3 608.3,593.9 616.2,596.7 624.2,598.7 636.0,600.0 647.8,605.2 653.1,611.8 663.6,617.1 671.5,617.1 676.8,623.6 684.7,628.9 692.6,634.5 699.1,639.4 704.4,637.5 707.0,637.4 713.6,639.6 718.9,646.8 725.5,658.7 732.0,669.2 736.0,673.1 742.6,673.1 750.4,678.4 758.3,688.9 766.2,698.1 776.7,706.0 785.9,708.6 789.9,706.7 796.3,708.0 812.0,716.6 825.2,723.1 838.3,727.1 853.1,730.6 861.0,733.3 874.2,732.6 882.1,737.9 886.0,741.2 899.2,743.8 917.6,748.4 921.5,745.8 929.4,746.4 938.6,751.0 949.1,755.6 958.3,754.3 971.5,753.6 984.6,751.0 990.0,750.4 1003.1,745.1 1016.3,742.5 1029.4,740.5 1042.6,737.9 1055.7,735.2 1068.9,732.6 1082.0,728.7 1086.0,728.0 1087.3,723.4 1095.2,720.8 1108.3,718.1 1121.5,716.8 1134.6,713.5 1147.9,711.1 1148.5,705.2 1153.1,701.9 1166.3,702.6 1179.4,698.6 1190.0,695.4 1191.3,697.3 1205.7,690.8 1218.9,685.5 1232.0,680.2 1245.2,675.0 1258.3,671.0 1271.5,666.4 1284.6,661.8 1297.8,657.2 1297.8,710.5 1288.6,719.0 1276.7,720.3 1272.8,717.1 1264.9,724.9 1251.8,732.8 1243.9,738.1 1241.2,747.3 1232.0,749.3 1225.5,746.0 1218.9,752.6 1208.4,759.1 1205.7,764.4 1193.9,764.4 1191.9,759.1 1186.0,764.4 1174.2,768.3 1163.7,767.0 1162.4,764.4 1140.0,767.0 1134.6,769.4 1121.5,773.4 1108.3,779.9 1095.2,789.1 1089.9,793.1 1082.0,798.3 1068.9,802.3 1061.0,802.3 1049.2,804.9 1029.4,808.9 1016.3,810.2 1013.7,815.4 1003.1,819.4 990.0,819.0 984.6,820.0 971.5,819.4 958.3,817.4 945.2,816.8 932.0,816.1 918.9,814.1 913.6,811.5 903.1,808.9 892.6,804.9 883.4,802.3 879.4,797.0 870.2,793.1 867.6,795.7 861.0,795.0 857.1,790.5 840.0,784.5 825.2,780.0 798.9,770.5 772.6,758.6 758.3,754.0 751.8,750.7 738.6,744.1 725.5,737.6 714.9,732.3 705.7,728.3 695.2,725.7 688.6,721.8 686.0,715.2 672.9,704.7 659.7,692.8 647.9,687.2 642.6,685.4 634.7,681.5 633.4,674.9 629.4,671.0 616.3,661.8 603.1,652.6 594.9,647.5 586.1,647.0 578.5,644.8 575.2,640.5 573.5,635.0 568.9,630.7 555.7,622.8 545.2,617.6 536.0,613.6 522.9,614.9 513.7,609.7 512.4,603.1 503.1,600.5 490.0,594.0 484.6,590.4 471.5,586.5 458.3,585.2 451.8,582.6 449.8,578.0 442.6,575.3 432.0,572.0 418.9,569.4 405.7,566.8 399.2,564.1 396.5,560.9 379.4,556.3 363.7,552.3 353.1,553.0 347.9,553.6 342.6,551.0 340.0,545.7 329.6,544.1 312.7,542.3 301.9,546.5 294.6,547.7 289.8,545.3 285.0,541.1 275.4,538.7 260.9,538.7 252.5,541.7 248.9,545.3 242.8,545.9 236.8,543.5 235.0,538.7 209.0,537.5 190.4,539.3" fill="none" stroke="#000000" stroke-width="4.5"/></g>
<g mask="url(#mchb)">
<rect x="150" y="445.0" width="1200" height="420" fill="#575757"/>
<g filter="url(#b8)">
<rect x="180.0" y="425.0" width="220.0" height="460" fill="#575757"/>
<rect x="400.0" y="425.0" width="240.0" height="460" fill="#545454"/>
<rect x="640.0" y="425.0" width="120.0" height="460" fill="#595959"/>
<rect x="760.0" y="425.0" width="140.0" height="460" fill="#5e5e5e"/>
<rect x="900.0" y="425.0" width="190.0" height="460" fill="#757575"/>
<rect x="1090.0" y="425.0" width="160.0" height="460" fill="#808080"/>
<rect x="1250.0" y="425.0" width="50.0" height="460" fill="#757575"/>
</g>
</g>
<g filter="url(#b1)"><polyline points="190.4,482.7 209.0,482.0 237.0,482.7 257.0,484.5 281.5,487.0 305.5,489.3 329.6,492.9 345.0,495.9 366.3,500.4 392.6,507.0 418.9,513.5 445.2,520.8 461.0,524.7 462.3,523.5 480.7,529.5 490.0,532.7 500.5,538.0 505.8,543.3 516.3,549.2 529.4,555.8 542.6,561.7 555.7,567.6 568.9,574.2 582.0,580.7 595.2,587.3 608.3,593.9 616.2,596.7 624.2,598.7 636.0,600.0 647.8,605.2 653.1,611.8 663.6,617.1 671.5,617.1 676.8,623.6 684.7,628.9 692.6,634.5 699.1,639.4 704.4,637.5 707.0,637.4 713.6,639.6 718.9,646.8 725.5,658.7 732.0,669.2 736.0,673.1 742.6,673.1 750.4,678.4 758.3,688.9 766.2,698.1 776.7,706.0 785.9,708.6 789.9,706.7 796.3,708.0 812.0,716.6 825.2,723.1 838.3,727.1 853.1,730.6 861.0,733.3 874.2,732.6 882.1,737.9 886.0,741.2 899.2,743.8 917.6,748.4 921.5,745.8 929.4,746.4 938.6,751.0 949.1,755.6 958.3,754.3 971.5,753.6 984.6,751.0 990.0,750.4 1003.1,745.1 1016.3,742.5 1029.4,740.5 1042.6,737.9 1055.7,735.2 1068.9,732.6 1082.0,728.7 1086.0,728.0 1087.3,723.4 1095.2,720.8 1108.3,718.1 1121.5,716.8 1134.6,713.5 1147.9,711.1 1148.5,705.2 1153.1,701.9 1166.3,702.6 1179.4,698.6 1190.0,695.4 1191.3,697.3 1205.7,690.8 1218.9,685.5 1232.0,680.2 1245.2,675.0 1258.3,671.0 1271.5,666.4 1284.6,661.8 1297.8,657.2" fill="none" stroke="#1a1a1a" stroke-width="3.2" opacity="0.8"/></g>
<g filter="url(#b1_5)">
<ellipse cx="242.8" cy="546.0" rx="7.0" ry="3.2" fill="#000000"/>
<ellipse cx="294.6" cy="548.0" rx="7.0" ry="3.2" fill="#000000"/>
<ellipse cx="348.0" cy="553.8" rx="7.0" ry="3.2" fill="#000000"/>
<ellipse cx="403.0" cy="566.5" rx="6.0" ry="3.0" fill="#000000"/>
<ellipse cx="455.0" cy="584.5" rx="6.0" ry="3.0" fill="#000000"/>
<ellipse cx="518.0" cy="613.0" rx="7.0" ry="3.5" fill="#000000"/>
<ellipse cx="582.0" cy="646.5" rx="7.0" ry="3.5" fill="#000000"/>
<ellipse cx="638.5" cy="684.0" rx="7.0" ry="3.5" fill="#000000"/>
<ellipse cx="692.0" cy="725.0" rx="6.0" ry="3.5" fill="#000000"/>
<ellipse cx="864.0" cy="795.5" rx="5.0" ry="2.5" fill="#000000"/>
<ellipse cx="886.0" cy="803.5" rx="5.0" ry="2.5" fill="#000000"/>
<ellipse cx="1169.0" cy="768.0" rx="7.0" ry="3.5" fill="#000000"/>
<ellipse cx="1200.0" cy="765.0" rx="7.0" ry="3.5" fill="#000000"/>
<ellipse cx="1236.0" cy="749.0" rx="7.0" ry="3.5" fill="#000000"/>
<ellipse cx="1282.0" cy="720.5" rx="7.0" ry="3.5" fill="#000000"/>
<ellipse cx="636.0" cy="599.5" rx="9.0" ry="3.5" fill="#000000"/>
<ellipse cx="667.0" cy="616.5" rx="7.0" ry="3.5" fill="#000000"/>
<ellipse cx="708.0" cy="637.5" rx="8.0" ry="4.0" fill="#000000"/>
<ellipse cx="741.0" cy="673.0" rx="7.0" ry="3.5" fill="#000000"/>
<ellipse cx="788.0" cy="707.0" rx="7.0" ry="3.0" fill="#000000"/>
<ellipse cx="867.0" cy="732.5" rx="8.0" ry="3.0" fill="#000000"/>
<ellipse cx="925.0" cy="745.5" rx="7.0" ry="3.5" fill="#000000"/>
<ellipse cx="1100.0" cy="719.5" rx="10.0" ry="3.0" fill="#000000"/>
<ellipse cx="1158.0" cy="702.0" rx="8.0" ry="3.0" fill="#000000"/>
</g>
<g filter="url(#b1_5)">
<ellipse cx="248.0" cy="527.0" rx="10.0" ry="3.1" fill="#8a8a8a"/>
<ellipse cx="247.0" cy="533.0" rx="7.5" ry="3.8" fill="#858585"/>
<ellipse cx="302.0" cy="529.0" rx="8.8" ry="2.8" fill="#858585"/>
<ellipse cx="300.0" cy="535.0" rx="6.2" ry="3.8" fill="#858585"/>
<ellipse cx="353.0" cy="544.4" rx="8.1" ry="3.1" fill="#9e9e9e"/>
<ellipse cx="406.5" cy="558.5" rx="8.1" ry="3.5" fill="#ababab"/>
<ellipse cx="459.6" cy="576.5" rx="5.6" ry="3.1" fill="#8a8a8a"/>
<ellipse cx="522.0" cy="598.0" rx="6.2" ry="3.8" fill="#8a8a8a"/>
<ellipse cx="588.0" cy="629.0" rx="6.2" ry="3.8" fill="#858585"/>
<ellipse cx="642.0" cy="676.0" rx="8.1" ry="4.4" fill="#919191"/>
<ellipse cx="696.0" cy="719.0" rx="6.2" ry="3.8" fill="#858585"/>
<ellipse cx="706.0" cy="650.0" rx="6.2" ry="5.0" fill="#9e9e9e"/>
<ellipse cx="688.0" cy="641.0" rx="5.0" ry="3.8" fill="#858585"/>
<ellipse cx="790.0" cy="713.0" rx="6.2" ry="3.1" fill="#9e9e9e"/>
<ellipse cx="925.0" cy="754.0" rx="6.2" ry="5.0" fill="#9e9e9e"/>
<ellipse cx="867.0" cy="737.0" rx="5.0" ry="3.8" fill="#787878"/>
<ellipse cx="1098.0" cy="726.0" rx="7.5" ry="3.1" fill="#919191"/>
<ellipse cx="1156.0" cy="707.0" rx="5.0" ry="3.8" fill="#8a8a8a"/>
<ellipse cx="1176.0" cy="756.0" rx="7.5" ry="5.0" fill="#ababab"/>
<ellipse cx="1204.0" cy="746.0" rx="10.0" ry="7.5" fill="#dedede"/>
<ellipse cx="1238.0" cy="728.0" rx="8.8" ry="7.5" fill="#d1d1d1"/>
<ellipse cx="1284.0" cy="702.0" rx="10.0" ry="6.2" fill="#c4c4c4"/>
<ellipse cx="742.0" cy="684.0" rx="7.5" ry="6.2" fill="#9e9e9e"/>
</g>
</g></g>
<clipPath id="rvb_s0"><rect x="180.0" y="445.0" width="166.5" height="420"/></clipPath>
<clipPath id="rvb_s1"><rect x="345.0" y="445.0" width="156.5" height="420"/></clipPath>
<clipPath id="rvb_s2"><rect x="500.0" y="445.0" width="121.5" height="420"/></clipPath>
<clipPath id="rvb_s3"><rect x="620.0" y="445.0" width="141.5" height="420"/></clipPath>
<clipPath id="rvb_s4"><rect x="760.0" y="445.0" width="101.5" height="420"/></clipPath>
<clipPath id="rvb_s5"><rect x="860.0" y="445.0" width="101.5" height="420"/></clipPath>
<clipPath id="rvb_s6"><rect x="960.0" y="445.0" width="81.5" height="420"/></clipPath>
<clipPath id="rvb_s7"><rect x="1040.0" y="445.0" width="121.5" height="420"/></clipPath>
<clipPath id="rvb_s8"><rect x="1160.0" y="445.0" width="151.5" height="420"/></clipPath>
</defs>
<g transform="rotate(5)" filter="url(#cmb)"><g transform="rotate(-5)" clip-path="url(#rvb_s0)"><use href="#rvb"/></g></g>
<g transform="rotate(15)" filter="url(#cmb)"><g transform="rotate(-15)" clip-path="url(#rvb_s1)"><use href="#rvb"/></g></g>
<g transform="rotate(25)" filter="url(#cmb)"><g transform="rotate(-25)" clip-path="url(#rvb_s2)"><use href="#rvb"/></g></g>
<g transform="rotate(38)" filter="url(#cmb)"><g transform="rotate(-38)" clip-path="url(#rvb_s3)"><use href="#rvb"/></g></g>
<g transform="rotate(21)" filter="url(#cmb)"><g transform="rotate(-21)" clip-path="url(#rvb_s4)"><use href="#rvb"/></g></g>
<g transform="rotate(12)" filter="url(#cmb)"><g transform="rotate(-12)" clip-path="url(#rvb_s5)"><use href="#rvb"/></g></g>
<g transform="rotate(-10)" filter="url(#cmb)"><g transform="rotate(10)" clip-path="url(#rvb_s6)"><use href="#rvb"/></g></g>
<g transform="rotate(-18)" filter="url(#cmb)"><g transform="rotate(18)" clip-path="url(#rvb_s7)"><use href="#rvb"/></g></g>
<g transform="rotate(-25)" filter="url(#cmb)"><g transform="rotate(25)" clip-path="url(#rvb_s8)"><use href="#rvb"/></g></g>
<g stroke-linecap="butt">
<line x1="239.8" y1="518.0" x2="237.5" y2="531.0" stroke="#f00" stroke-width="2.2" />
<line x1="294.5" y1="523.0" x2="292.0" y2="535.0" stroke="#f00" stroke-width="2.0" />
<line x1="346.9" y1="530.0" x2="342.5" y2="547.0" stroke="#f00" stroke-width="2.0" />
<line x1="404.4" y1="543.8" x2="399.0" y2="558.0" stroke="#f00" stroke-width="2.4" />
<line x1="459.0" y1="562.2" x2="452.5" y2="576.0" stroke="#f00" stroke-width="2.0" />
<line x1="522.2" y1="589.3" x2="514.0" y2="602.0" stroke="#f00" stroke-width="1.6" />
<line x1="587.3" y1="620.2" x2="577.0" y2="634.0" stroke="#f00" stroke-width="2.4" />
<line x1="647.8" y1="661.1" x2="638.6" y2="669.7" stroke="#f00" stroke-width="2.0" />
<line x1="701.5" y1="707.5" x2="692.0" y2="715.5" stroke="#f00" stroke-width="1.8" />
<line x1="860.4" y1="739.2" x2="857.1" y2="755.0" stroke="#f00" stroke-width="2.0" />
<line x1="918.4" y1="749.7" x2="918.2" y2="772.0" stroke="#f00" stroke-width="2.8" />
<line x1="918.9" y1="756.9" x2="927.4" y2="756.9" stroke="#f00" stroke-width="2.2" />
<line x1="785.5" y1="709.8" x2="784.1" y2="719.0" stroke="#f00" stroke-width="1.5" />
<line x1="785.5" y1="715.0" x2="791.5" y2="715.0" stroke="#f00" stroke-width="1.1" />
<line x1="1146.6" y1="710.5" x2="1155.8" y2="721.7" stroke="#f00" stroke-width="2.0" />
<line x1="1230.7" y1="720.3" x2="1257.7" y2="707.8" stroke="#f00" stroke-width="2.4" />
<line x1="1196.5" y1="738.7" x2="1211.7" y2="731.5" stroke="#f00" stroke-width="2.0" />
<line x1="1172.9" y1="751.2" x2="1182.0" y2="746.6" stroke="#f00" stroke-width="1.5" />
<line x1="1230.7" y1="720.3" x2="1225.8" y2="745.0" stroke="#f00" stroke-width="2.0" />
<line x1="1196.5" y1="738.7" x2="1192.2" y2="760.0" stroke="#f00" stroke-width="2.4" />
<line x1="1279.4" y1="695.4" x2="1272.5" y2="717.0" stroke="#f00" stroke-width="2.0" />
<line x1="1165.0" y1="761.0" x2="1171.0" y2="752.0" stroke="#f00" stroke-width="1.8" />
<line x1="618.3" y1="599.3" x2="632.0" y2="609.2" stroke="#f00" stroke-width="2.4" />
<line x1="635.4" y1="610.5" x2="694.5" y2="657.2" stroke="#f00" stroke-width="2.5" />
<line x1="699.1" y1="663.1" x2="724.6" y2="683.8" stroke="#f00" stroke-width="2.5" />
<line x1="734.8" y1="673.0" x2="732.2" y2="690.8" stroke="#f00" stroke-width="1.5" />
<line x1="732.4" y1="690.8" x2="744.5" y2="700.4" stroke="#f00" stroke-width="2.8" />
<line x1="663.6" y1="627.6" x2="665.6" y2="618.4" stroke="#f00" stroke-width="1.0" />
<line x1="680.0" y1="642.0" x2="682.0" y2="634.2" stroke="#f00" stroke-width="1.0" />
<line x1="698.5" y1="662.4" x2="701.8" y2="646.0" stroke="#f00" stroke-width="1.4" />
<line x1="458.3" y1="526.0" x2="492.5" y2="538.5" stroke="#f00" stroke-width="1.4" />
<line x1="237.5" y1="531.0" x2="235.6" y2="538.7" stroke="#f41" stroke-width="1.0" />
<line x1="292.0" y1="535.0" x2="289.8" y2="542.3" stroke="#f41" stroke-width="1.0" />
<line x1="912.3" y1="807.6" x2="910.3" y2="811.5" stroke="#f41" stroke-width="1.0" />
<line x1="936.0" y1="811.5" x2="934.0" y2="816.1" stroke="#f41" stroke-width="1.0" />
<line x1="957.7" y1="813.5" x2="955.7" y2="816.8" stroke="#f41" stroke-width="1.0" />
<line x1="977.4" y1="814.1" x2="974.8" y2="818.7" stroke="#f41" stroke-width="1.0" />
<line x1="997.1" y1="813.5" x2="995.8" y2="818.1" stroke="#f41" stroke-width="1.0" />
<line x1="1084.7" y1="728.0" x2="1095.2" y2="739.2" stroke="#f41" stroke-width="1.0" />
<line x1="860.0" y1="744.7" x2="856.5" y2="753.9" stroke="#f41" stroke-width="1.0" />
<polyline points="403.0,509.6 430.0,517.0 458.3,524.7" fill="none" stroke="#f73" stroke-width="0.9" stroke-dasharray="3 2.5" opacity="0.8"/>
<polyline points="515.0,549.2 542.6,562.5 568.9,575.0 595.2,588.0 616.2,599.1" fill="none" stroke="#f52" stroke-width="1.0" stroke-dasharray="4 2" opacity="0.85"/>
</g>
<polygon points="504.5,542.0 507.0,541.6 515.0,547.4 514.0,549.4 508.0,546.0" fill="#f00"/>
<polygon points="733.6,679.4 741.8,679.6 742.0,687.5 733.5,687.4" fill="#f00"/>
<polygon points="1197.0,740.0 1207.0,741.0 1205.0,753.0 1196.0,754.0" fill="#f20"/>
<polygon points="1231.0,721.0 1237.5,722.0 1236.0,729.0 1230.0,729.0" fill="#f20"/>
<polygon points="1166.5,753.5 1179.0,751.5 1175.5,762.0 1165.0,761.5" fill="none" stroke="#f00" stroke-width="1.5"/>
<polygon points="1092.6,792.0 1099.1,784.0 1108.3,780.0 1119.5,775.4 1134.6,770.5 1120.0,777.3 1108.3,783.2 1096.0,792.4" fill="#f00"/>
<rect x="146.4" y="25.5" width="1187.3" height="370.6" fill="none" stroke="#555" stroke-width="1.1"/>
<path d="M163.1 396.1v-1.9M163.1 25.5v1.9M196.6 396.1v-1.9M196.6 25.5v1.9M230.0 396.1v-3.6M230.0 25.5v3.6M263.4 396.1v-1.9M263.4 25.5v1.9M296.9 396.1v-1.9M296.9 25.5v1.9M330.3 396.1v-1.9M330.3 25.5v1.9M363.8 396.1v-1.9M363.8 25.5v1.9M397.2 396.1v-3.6M397.2 25.5v3.6M430.7 396.1v-1.9M430.7 25.5v1.9M464.1 396.1v-1.9M464.1 25.5v1.9M497.6 396.1v-1.9M497.6 25.5v1.9M531.0 396.1v-1.9M531.0 25.5v1.9M564.5 396.1v-3.6M564.5 25.5v3.6M597.9 396.1v-1.9M597.9 25.5v1.9M631.4 396.1v-1.9M631.4 25.5v1.9M664.8 396.1v-1.9M664.8 25.5v1.9M698.2 396.1v-1.9M698.2 25.5v1.9M731.7 396.1v-3.6M731.7 25.5v3.6M765.1 396.1v-1.9M765.1 25.5v1.9M798.6 396.1v-1.9M798.6 25.5v1.9M832.0 396.1v-1.9M832.0 25.5v1.9M865.5 396.1v-1.9M865.5 25.5v1.9M898.9 396.1v-3.6M898.9 25.5v3.6M932.4 396.1v-1.9M932.4 25.5v1.9M965.8 396.1v-1.9M965.8 25.5v1.9M999.3 396.1v-1.9M999.3 25.5v1.9M1032.7 396.1v-1.9M1032.7 25.5v1.9M1066.2 396.1v-3.6M1066.2 25.5v3.6M1099.6 396.1v-1.9M1099.6 25.5v1.9M1133.0 396.1v-1.9M1133.0 25.5v1.9M1166.5 396.1v-1.9M1166.5 25.5v1.9M1199.9 396.1v-1.9M1199.9 25.5v1.9M1233.4 396.1v-3.6M1233.4 25.5v3.6M1266.8 396.1v-1.9M1266.8 25.5v1.9M1300.3 396.1v-1.9M1300.3 25.5v1.9M1333.7 396.1v-1.9M1333.7 25.5v1.9M146.4 25.5h3.6M1333.7 25.5h-3.6M146.4 33.7h1.9M1333.7 33.7h-1.9M146.4 42.0h1.9M1333.7 42.0h-1.9M146.4 50.2h1.9M1333.7 50.2h-1.9M146.4 58.4h1.9M1333.7 58.4h-1.9M146.4 66.7h3.6M1333.7 66.7h-3.6M146.4 74.9h1.9M1333.7 74.9h-1.9M146.4 83.1h1.9M1333.7 83.1h-1.9M146.4 91.4h1.9M1333.7 91.4h-1.9M146.4 99.6h1.9M1333.7 99.6h-1.9M146.4 107.9h3.6M1333.7 107.9h-3.6M146.4 116.1h1.9M1333.7 116.1h-1.9M146.4 124.3h1.9M1333.7 124.3h-1.9M146.4 132.6h1.9M1333.7 132.6h-1.9M146.4 140.8h1.9M1333.7 140.8h-1.9M146.4 149.0h3.6M1333.7 149.0h-3.6M146.4 157.3h1.9M1333.7 157.3h-1.9M146.4 165.5h1.9M1333.7 165.5h-1.9M146.4 173.7h1.9M1333.7 173.7h-1.9M146.4 182.0h1.9M1333.7 182.0h-1.9M146.4 190.2h3.6M1333.7 190.2h-3.6M146.4 198.4h1.9M1333.7 198.4h-1.9M146.4 206.7h1.9M1333.7 206.7h-1.9M146.4 214.9h1.9M1333.7 214.9h-1.9M146.4 223.2h1.9M1333.7 223.2h-1.9M146.4 231.4h3.6M1333.7 231.4h-3.6M146.4 239.6h1.9M1333.7 239.6h-1.9M146.4 247.9h1.9M1333.7 247.9h-1.9M146.4 256.1h1.9M1333.7 256.1h-1.9M146.4 264.3h1.9M1333.7 264.3h-1.9M146.4 272.6h3.6M1333.7 272.6h-3.6M146.4 280.8h1.9M1333.7 280.8h-1.9M146.4 289.0h1.9M1333.7 289.0h-1.9M146.4 297.3h1.9M1333.7 297.3h-1.9M146.4 305.5h1.9M1333.7 305.5h-1.9M146.4 313.7h3.6M1333.7 313.7h-3.6M146.4 322.0h1.9M1333.7 322.0h-1.9M146.4 330.2h1.9M1333.7 330.2h-1.9M146.4 338.5h1.9M1333.7 338.5h-1.9M146.4 346.7h1.9M1333.7 346.7h-1.9M146.4 354.9h3.6M1333.7 354.9h-3.6M146.4 363.2h1.9M1333.7 363.2h-1.9M146.4 371.4h1.9M1333.7 371.4h-1.9M146.4 379.6h1.9M1333.7 379.6h-1.9M146.4 387.9h1.9M1333.7 387.9h-1.9M146.4 396.1h3.6M1333.7 396.1h-3.6" stroke="#555" stroke-width="1" fill="none"/>
<text x="230.5" y="423.2" font-size="31.5" text-anchor="middle" textLength="96" lengthAdjust="spacingAndGlyphs">428000</text>
<text x="397.7" y="423.2" font-size="31.5" text-anchor="middle" textLength="96" lengthAdjust="spacingAndGlyphs">429000</text>
<text x="565.0" y="423.2" font-size="31.5" text-anchor="middle" textLength="96" lengthAdjust="spacingAndGlyphs">430000</text>
<text x="732.2" y="423.2" font-size="31.5" text-anchor="middle" textLength="96" lengthAdjust="spacingAndGlyphs">431000</text>
<text x="899.4" y="423.2" font-size="31.5" text-anchor="middle" textLength="96" lengthAdjust="spacingAndGlyphs">432000</text>
<text x="1066.7" y="423.2" font-size="31.5" text-anchor="middle" textLength="96" lengthAdjust="spacingAndGlyphs">433000</text>
<text x="1233.9" y="423.2" font-size="31.5" text-anchor="middle" textLength="96" lengthAdjust="spacingAndGlyphs">434000</text>
<text x="143.2" y="36.9" font-size="32.5" text-anchor="end" textLength="105.5" lengthAdjust="spacingAndGlyphs">4.34125</text>
<text x="143.2" y="78.1" font-size="32.5" text-anchor="end" textLength="105.5" lengthAdjust="spacingAndGlyphs">4.34100</text>
<text x="143.2" y="119.3" font-size="32.5" text-anchor="end" textLength="105.5" lengthAdjust="spacingAndGlyphs">4.34075</text>
<text x="143.2" y="160.4" font-size="32.5" text-anchor="end" textLength="105.5" lengthAdjust="spacingAndGlyphs">4.34050</text>
<text x="143.2" y="201.6" font-size="32.5" text-anchor="end" textLength="105.5" lengthAdjust="spacingAndGlyphs">4.34025</text>
<text x="143.2" y="242.8" font-size="32.5" text-anchor="end" textLength="105.5" lengthAdjust="spacingAndGlyphs">4.34000</text>
<text x="143.2" y="284.0" font-size="32.5" text-anchor="end" textLength="105.5" lengthAdjust="spacingAndGlyphs">4.33975</text>
<text x="143.2" y="325.1" font-size="32.5" text-anchor="end" textLength="105.5" lengthAdjust="spacingAndGlyphs">4.33950</text>
<text x="143.2" y="366.3" font-size="32.5" text-anchor="end" textLength="105.5" lengthAdjust="spacingAndGlyphs">4.33925</text>
<text x="143.2" y="407.5" font-size="32.5" text-anchor="end" textLength="105.5" lengthAdjust="spacingAndGlyphs">4.33900</text>
<text x="147.0" y="22.9" font-size="26">×</text><text x="165.6" y="22.6" font-size="24" textLength="22.6" lengthAdjust="spacingAndGlyphs">10</text><text x="188.8" y="13.8" font-size="17.6">6</text>
<text x="739.5" y="457.0" font-size="31.5" text-anchor="middle" textLength="165" lengthAdjust="spacingAndGlyphs">Easting (m)</text>
<text transform="translate(27.5 211.5) rotate(-90)" font-size="31.5" text-anchor="middle" textLength="183.5" lengthAdjust="spacingAndGlyphs">Northing (m)</text>
<text x="1304" y="65.0" font-size="40" font-weight="bold" text-anchor="middle" textLength="41" lengthAdjust="spacingAndGlyphs">(a)</text>
<polygon points="282.4,47.5 276.8,58.0 288.0,58.0" fill="#000"/>
<text x="285.3" y="83.0" font-size="33" font-weight="bold" text-anchor="middle" textLength="48.5" lengthAdjust="spacingAndGlyphs">313</text>
<polygon points="542.6,119.6 537.0,130.1 548.2,130.1" fill="#000"/>
<text x="546.5" y="114.0" font-size="33" font-weight="bold" text-anchor="middle" textLength="48.5" lengthAdjust="spacingAndGlyphs">312</text>
<polygon points="756.6,275.9 751.0,286.4 762.2,286.4" fill="#000"/>
<text x="751.5" y="327.4" font-size="33" font-weight="bold" text-anchor="middle" textLength="48.5" lengthAdjust="spacingAndGlyphs">311</text>
<polygon points="1008.5,349.7 1002.9,360.2 1014.1,360.2" fill="#000"/>
<text x="1040.8" y="383.5" font-size="33" font-weight="bold" text-anchor="middle" textLength="48.5" lengthAdjust="spacingAndGlyphs">310</text>
<polygon points="1254.6,242.5 1249.0,253.0 1260.2,253.0" fill="#000"/>
<text x="1251.8" y="235.2" font-size="33" font-weight="bold" text-anchor="middle" textLength="48.5" lengthAdjust="spacingAndGlyphs">309</text>
<path d="M1407.9 41.4L1417.2 25.1L1426.6 41.4L1426.6 379.8L1417.2 396.2L1407.9 379.8Z" fill="url(#cba)" stroke="#333" stroke-width="0.9" stroke-linejoin="miter"/>
<path d="M1426.6 379.8h-4.0M1426.6 351.6h-2.2M1426.6 323.4h-2.2M1426.6 295.2h-2.2M1426.6 267.0h-4.0M1426.6 238.8h-2.2M1426.6 210.6h-2.2M1426.6 182.4h-2.2M1426.6 154.2h-4.0M1426.6 126.0h-2.2M1426.6 97.8h-2.2M1426.6 69.6h-2.2M1426.6 41.4h-4.0" stroke="#222" stroke-width="1" fill="none"/>
<text x="1429.8" y="391.3" font-size="31" textLength="68.5" lengthAdjust="spacingAndGlyphs">0.000</text>
<text x="1429.8" y="278.5" font-size="31" textLength="68.5" lengthAdjust="spacingAndGlyphs">0.002</text>
<text x="1429.8" y="165.7" font-size="31" textLength="68.5" lengthAdjust="spacingAndGlyphs">0.004</text>
<text x="1429.8" y="52.9" font-size="31" textLength="68.5" lengthAdjust="spacingAndGlyphs">0.006</text>
<text transform="translate(1382 205.5) rotate(-90)" font-size="32" text-anchor="middle">ε (m<tspan dy="-13" font-size="16" font-family="Liberation Sans,sans-serif">2</tspan><tspan dy="13">/s</tspan><tspan dy="-13" font-size="16" font-family="Liberation Sans,sans-serif">3</tspan><tspan dy="13">)</tspan></text>
<rect x="146.4" y="470.5" width="1187.3" height="370.6" fill="none" stroke="#555" stroke-width="1.1"/>
<path d="M163.1 841.1v-1.9M163.1 470.5v1.9M196.6 841.1v-1.9M196.6 470.5v1.9M230.0 841.1v-3.6M230.0 470.5v3.6M263.4 841.1v-1.9M263.4 470.5v1.9M296.9 841.1v-1.9M296.9 470.5v1.9M330.3 841.1v-1.9M330.3 470.5v1.9M363.8 841.1v-1.9M363.8 470.5v1.9M397.2 841.1v-3.6M397.2 470.5v3.6M430.7 841.1v-1.9M430.7 470.5v1.9M464.1 841.1v-1.9M464.1 470.5v1.9M497.6 841.1v-1.9M497.6 470.5v1.9M531.0 841.1v-1.9M531.0 470.5v1.9M564.5 841.1v-3.6M564.5 470.5v3.6M597.9 841.1v-1.9M597.9 470.5v1.9M631.4 841.1v-1.9M631.4 470.5v1.9M664.8 841.1v-1.9M664.8 470.5v1.9M698.2 841.1v-1.9M698.2 470.5v1.9M731.7 841.1v-3.6M731.7 470.5v3.6M765.1 841.1v-1.9M765.1 470.5v1.9M798.6 841.1v-1.9M798.6 470.5v1.9M832.0 841.1v-1.9M832.0 470.5v1.9M865.5 841.1v-1.9M865.5 470.5v1.9M898.9 841.1v-3.6M898.9 470.5v3.6M932.4 841.1v-1.9M932.4 470.5v1.9M965.8 841.1v-1.9M965.8 470.5v1.9M999.3 841.1v-1.9M999.3 470.5v1.9M1032.7 841.1v-1.9M1032.7 470.5v1.9M1066.2 841.1v-3.6M1066.2 470.5v3.6M1099.6 841.1v-1.9M1099.6 470.5v1.9M1133.0 841.1v-1.9M1133.0 470.5v1.9M1166.5 841.1v-1.9M1166.5 470.5v1.9M1199.9 841.1v-1.9M1199.9 470.5v1.9M1233.4 841.1v-3.6M1233.4 470.5v3.6M1266.8 841.1v-1.9M1266.8 470.5v1.9M1300.3 841.1v-1.9M1300.3 470.5v1.9M1333.7 841.1v-1.9M1333.7 470.5v1.9M146.4 470.5h3.6M1333.7 470.5h-3.6M146.4 478.7h1.9M1333.7 478.7h-1.9M146.4 487.0h1.9M1333.7 487.0h-1.9M146.4 495.2h1.9M1333.7 495.2h-1.9M146.4 503.4h1.9M1333.7 503.4h-1.9M146.4 511.7h3.6M1333.7 511.7h-3.6M146.4 519.9h1.9M1333.7 519.9h-1.9M146.4 528.1h1.9M1333.7 528.1h-1.9M146.4 536.4h1.9M1333.7 536.4h-1.9M146.4 544.6h1.9M1333.7 544.6h-1.9M146.4 552.9h3.6M1333.7 552.9h-3.6M146.4 561.1h1.9M1333.7 561.1h-1.9M146.4 569.3h1.9M1333.7 569.3h-1.9M146.4 577.6h1.9M1333.7 577.6h-1.9M146.4 585.8h1.9M1333.7 585.8h-1.9M146.4 594.0h3.6M1333.7 594.0h-3.6M146.4 602.3h1.9M1333.7 602.3h-1.9M146.4 610.5h1.9M1333.7 610.5h-1.9M146.4 618.7h1.9M1333.7 618.7h-1.9M146.4 627.0h1.9M1333.7 627.0h-1.9M146.4 635.2h3.6M1333.7 635.2h-3.6M146.4 643.4h1.9M1333.7 643.4h-1.9M146.4 651.7h1.9M1333.7 651.7h-1.9M146.4 659.9h1.9M1333.7 659.9h-1.9M146.4 668.2h1.9M1333.7 668.2h-1.9M146.4 676.4h3.6M1333.7 676.4h-3.6M146.4 684.6h1.9M1333.7 684.6h-1.9M146.4 692.9h1.9M1333.7 692.9h-1.9M146.4 701.1h1.9M1333.7 701.1h-1.9M146.4 709.3h1.9M1333.7 709.3h-1.9M146.4 717.6h3.6M1333.7 717.6h-3.6M146.4 725.8h1.9M1333.7 725.8h-1.9M146.4 734.0h1.9M1333.7 734.0h-1.9M146.4 742.3h1.9M1333.7 742.3h-1.9M146.4 750.5h1.9M1333.7 750.5h-1.9M146.4 758.7h3.6M1333.7 758.7h-3.6M146.4 767.0h1.9M1333.7 767.0h-1.9M146.4 775.2h1.9M1333.7 775.2h-1.9M146.4 783.5h1.9M1333.7 783.5h-1.9M146.4 791.7h1.9M1333.7 791.7h-1.9M146.4 799.9h3.6M1333.7 799.9h-3.6M146.4 808.2h1.9M1333.7 808.2h-1.9M146.4 816.4h1.9M1333.7 816.4h-1.9M146.4 824.6h1.9M1333.7 824.6h-1.9M146.4 832.9h1.9M1333.7 832.9h-1.9M146.4 841.1h3.6M1333.7 841.1h-3.6" stroke="#555" stroke-width="1" fill="none"/>
<text x="230.5" y="868.2" font-size="31.5" text-anchor="middle" textLength="96" lengthAdjust="spacingAndGlyphs">428000</text>
<text x="397.7" y="868.2" font-size="31.5" text-anchor="middle" textLength="96" lengthAdjust="spacingAndGlyphs">429000</text>
<text x="565.0" y="868.2" font-size="31.5" text-anchor="middle" textLength="96" lengthAdjust="spacingAndGlyphs">430000</text>
<text x="732.2" y="868.2" font-size="31.5" text-anchor="middle" textLength="96" lengthAdjust="spacingAndGlyphs">431000</text>
<text x="899.4" y="868.2" font-size="31.5" text-anchor="middle" textLength="96" lengthAdjust="spacingAndGlyphs">432000</text>
<text x="1066.7" y="868.2" font-size="31.5" text-anchor="middle" textLength="96" lengthAdjust="spacingAndGlyphs">433000</text>
<text x="1233.9" y="868.2" font-size="31.5" text-anchor="middle" textLength="96" lengthAdjust="spacingAndGlyphs">434000</text>
<text x="143.2" y="481.9" font-size="32.5" text-anchor="end" textLength="105.5" lengthAdjust="spacingAndGlyphs">4.34125</text>
<text x="143.2" y="523.1" font-size="32.5" text-anchor="end" textLength="105.5" lengthAdjust="spacingAndGlyphs">4.34100</text>
<text x="143.2" y="564.3" font-size="32.5" text-anchor="end" textLength="105.5" lengthAdjust="spacingAndGlyphs">4.34075</text>
<text x="143.2" y="605.4" font-size="32.5" text-anchor="end" textLength="105.5" lengthAdjust="spacingAndGlyphs">4.34050</text>
<text x="143.2" y="646.6" font-size="32.5" text-anchor="end" textLength="105.5" lengthAdjust="spacingAndGlyphs">4.34025</text>
<text x="143.2" y="687.8" font-size="32.5" text-anchor="end" textLength="105.5" lengthAdjust="spacingAndGlyphs">4.34000</text>
<text x="143.2" y="729.0" font-size="32.5" text-anchor="end" textLength="105.5" lengthAdjust="spacingAndGlyphs">4.33975</text>
<text x="143.2" y="770.1" font-size="32.5" text-anchor="end" textLength="105.5" lengthAdjust="spacingAndGlyphs">4.33950</text>
<text x="143.2" y="811.3" font-size="32.5" text-anchor="end" textLength="105.5" lengthAdjust="spacingAndGlyphs">4.33925</text>
<text x="143.2" y="852.5" font-size="32.5" text-anchor="end" textLength="105.5" lengthAdjust="spacingAndGlyphs">4.33900</text>
<text x="147.0" y="467.9" font-size="26">×</text><text x="165.6" y="467.6" font-size="24" textLength="22.6" lengthAdjust="spacingAndGlyphs">10</text><text x="188.8" y="458.8" font-size="17.6">6</text>
<text x="739.5" y="902.0" font-size="31.5" text-anchor="middle" textLength="165" lengthAdjust="spacingAndGlyphs">Easting (m)</text>
<text transform="translate(27.5 656.5) rotate(-90)" font-size="31.5" text-anchor="middle" textLength="183.5" lengthAdjust="spacingAndGlyphs">Northing (m)</text>
<text x="1304" y="511.2" font-size="40" font-weight="bold" text-anchor="middle" textLength="43" lengthAdjust="spacingAndGlyphs">(b)</text>
<polygon points="282.4,492.5 276.8,503.0 288.0,503.0" fill="#000"/>
<text x="285.3" y="535.0" font-size="33" font-weight="bold" text-anchor="middle" textLength="48.5" lengthAdjust="spacingAndGlyphs">313</text>
<polygon points="542.6,564.6 537.0,575.1 548.2,575.1" fill="#000"/>
<text x="546.5" y="561.0" font-size="33" font-weight="bold" text-anchor="middle" textLength="48.5" lengthAdjust="spacingAndGlyphs">312</text>
<polygon points="756.5,721.1 750.9,731.6 762.1,731.6" fill="#000"/>
<text x="748.6" y="769.3" font-size="33" font-weight="bold" text-anchor="middle" textLength="48.5" lengthAdjust="spacingAndGlyphs">311</text>
<polygon points="1008.5,794.7 1002.9,805.2 1014.1,805.2" fill="#000"/>
<text x="1040.5" y="834.6" font-size="33" font-weight="bold" text-anchor="middle" textLength="48.5" lengthAdjust="spacingAndGlyphs">310</text>
<polygon points="1254.6,687.5 1249.0,698.0 1260.2,698.0" fill="#000"/>
<text x="1252.4" y="682.2" font-size="33" font-weight="bold" text-anchor="middle" textLength="48.5" lengthAdjust="spacingAndGlyphs">309</text>
<path d="M1407.9 486.4L1417.2 470.1L1426.6 486.4L1426.6 824.8L1417.2 841.2L1407.9 824.8Z" fill="url(#cbb)" stroke="#333" stroke-width="0.9" stroke-linejoin="miter"/>
<path d="M1426.6 824.8h-4.0M1426.6 796.6h-2.2M1426.6 768.4h-2.2M1426.6 740.2h-2.2M1426.6 712.0h-4.0M1426.6 683.8h-2.2M1426.6 655.6h-2.2M1426.6 627.4h-2.2M1426.6 599.2h-4.0M1426.6 571.0h-2.2M1426.6 542.8h-2.2M1426.6 514.6h-2.2M1426.6 486.4h-4.0" stroke="#222" stroke-width="1" fill="none"/>
<text x="1429.8" y="836.3" font-size="31" textLength="68.5" lengthAdjust="spacingAndGlyphs">0.000</text>
<text x="1429.8" y="723.5" font-size="31" textLength="68.5" lengthAdjust="spacingAndGlyphs">0.002</text>
<text x="1429.8" y="610.7" font-size="31" textLength="68.5" lengthAdjust="spacingAndGlyphs">0.004</text>
<text x="1429.8" y="497.9" font-size="31" textLength="68.5" lengthAdjust="spacingAndGlyphs">0.006</text>
<text transform="translate(1382 650.5) rotate(-90)" font-size="32" text-anchor="middle">ε (m<tspan dy="-13" font-size="16" font-family="Liberation Sans,sans-serif">2</tspan><tspan dy="13">/s</tspan><tspan dy="-13" font-size="16" font-family="Liberation Sans,sans-serif">3</tspan><tspan dy="13">)</tspan></text>
</svg></body></html>
